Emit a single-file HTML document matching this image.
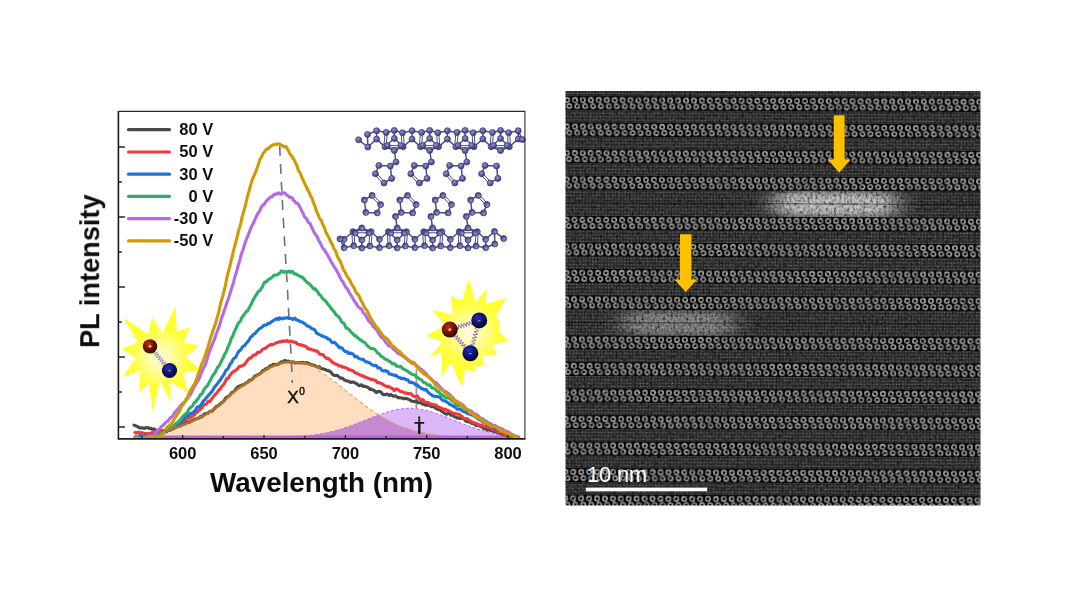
<!DOCTYPE html>
<html><head><meta charset="utf-8"><title>PL intensity vs wavelength</title>
<style>
html,body{margin:0;padding:0;background:#fff;}
body{width:1080px;height:608px;overflow:hidden;}
svg{display:block;font-family:"Liberation Sans",sans-serif;}
</style></head><body>
<svg width="1080" height="608" viewBox="0 0 1080 608">
<defs>
<radialGradient id="atomg" cx="0.4" cy="0.35" r="0.65"><stop offset="0" stop-color="#9090cc"/><stop offset="0.55" stop-color="#6464a6"/><stop offset="1" stop-color="#36366e"/></radialGradient>
<radialGradient id="redb" cx="0.4" cy="0.35" r="0.7"><stop offset="0" stop-color="#c02a1c"/><stop offset="0.5" stop-color="#78100c"/><stop offset="1" stop-color="#1c0303"/></radialGradient>
<radialGradient id="blueb" cx="0.4" cy="0.35" r="0.7"><stop offset="0" stop-color="#2630b8"/><stop offset="0.5" stop-color="#0c1378"/><stop offset="1" stop-color="#02031c"/></radialGradient>
<radialGradient id="sun1" gradientUnits="userSpaceOnUse" cx="160" cy="358" r="52"><stop offset="0" stop-color="#fffde0"/><stop offset="0.25" stop-color="#fffca0"/><stop offset="0.55" stop-color="#ffff3c"/><stop offset="1" stop-color="#ffff26"/></radialGradient>
<radialGradient id="sun2" gradientUnits="userSpaceOnUse" cx="469" cy="333" r="54"><stop offset="0" stop-color="#fffde8"/><stop offset="0.25" stop-color="#fffca0"/><stop offset="0.55" stop-color="#ffff3c"/><stop offset="1" stop-color="#ffff26"/></radialGradient>
<clipPath id="plotclip"><rect x="118.4" y="111.4" width="406.5" height="327.5"/></clipPath>
<filter id="soft2" x="0" y="0" width="100%" height="100%"><feGaussianBlur stdDeviation="0.35"/></filter>
<filter id="soft" x="-5%" y="-5%" width="110%" height="110%"><feGaussianBlur stdDeviation="0.45"/></filter>
<clipPath id="temclip"><rect x="565.5" y="91.0" width="415.0" height="414.4"/></clipPath>
<filter id="temblur" x="-2%" y="-2%" width="104%" height="104%"><feGaussianBlur stdDeviation="0.6"/></filter>
<filter id="blobblur" x="-20%" y="-50%" width="140%" height="200%"><feGaussianBlur stdDeviation="12 3.6"/></filter>
<filter id="grain" x="0" y="0" width="100%" height="100%"><feTurbulence type="fractalNoise" baseFrequency="0.38 0.34" numOctaves="2" seed="3" result="n"/><feColorMatrix type="matrix" values="1.9 0 0 0 -0.25  1.9 0 0 0 -0.25  1.9 0 0 0 -0.25  0 0 0 0 1"/></filter>
<pattern id="rings" patternUnits="userSpaceOnUse" x="570.13" y="0" width="7.93" height="14"><rect width="7.93" height="14" fill="#060606"/><circle cx="3.965" cy="3.9" r="2.15" fill="none" stroke="#a2a2a2" stroke-width="1.8"/><circle cx="6.233" cy="10.1" r="2.15" fill="none" stroke="#a2a2a2" stroke-width="1.8"/><circle cx="-1.697" cy="10.1" r="2.15" fill="none" stroke="#a2a2a2" stroke-width="1.8"/></pattern>
<g id="band"><rect x="560.5" y="0" width="425.0" height="14" fill="url(#rings)"/></g>
<pattern id="speck" patternUnits="userSpaceOnUse" x="566" y="0.3" width="3.2" height="3.29"><rect x="0.3" y="0.5" width="1.7" height="1.3" fill="#6e6e6e"/></pattern>
<radialGradient id="blob1" cx="0.5" cy="0.5" r="0.5" gradientTransform="translate(0.5 0.5) scale(1 1) translate(-0.5 -0.5)"><stop offset="0" stop-color="#f4f4f4" stop-opacity="0.74"/><stop offset="0.55" stop-color="#ececec" stop-opacity="0.58"/><stop offset="0.85" stop-color="#bbb" stop-opacity="0.18"/><stop offset="1" stop-color="#aaa" stop-opacity="0"/></radialGradient>
<radialGradient id="blob2" cx="0.5" cy="0.5" r="0.5"><stop offset="0" stop-color="#e8e8e8" stop-opacity="0.44"/><stop offset="0.55" stop-color="#e0e0e0" stop-opacity="0.33"/><stop offset="0.85" stop-color="#bbb" stop-opacity="0.10"/><stop offset="1" stop-color="#aaa" stop-opacity="0"/></radialGradient>
</defs>
<rect width="1080" height="608" fill="#fff"/>
<g id="chart" filter="url(#soft2)">
<g clip-path="url(#plotclip)">
<path d="M150.0,434.0 L152.0,433.7 L154.0,433.3 L156.0,432.9 L158.0,432.5 L160.0,432.1 L162.0,431.7 L164.0,431.2 L166.0,430.7 L168.0,430.1 L170.0,429.5 L172.0,428.9 L174.0,428.3 L176.0,427.6 L178.0,426.9 L180.0,426.1 L182.0,425.3 L184.0,424.5 L186.0,423.6 L188.0,422.7 L190.0,421.7 L192.0,420.7 L194.0,419.6 L196.0,418.5 L198.0,417.4 L200.0,416.2 L202.0,415.0 L204.0,413.8 L206.0,412.5 L208.0,411.2 L210.0,409.8 L212.0,408.4 L214.0,407.0 L216.0,405.5 L218.0,404.1 L220.0,402.6 L222.0,401.0 L224.0,399.5 L226.0,397.9 L228.0,396.3 L230.0,394.7 L232.0,393.1 L234.0,391.5 L236.0,389.9 L238.0,388.3 L240.0,386.7 L242.0,385.2 L244.0,383.6 L246.0,382.1 L248.0,380.6 L250.0,379.1 L252.0,377.7 L254.0,376.3 L256.0,374.9 L258.0,373.6 L260.0,372.3 L262.0,371.1 L264.0,370.0 L266.0,368.9 L268.0,367.9 L270.0,367.0 L272.0,366.2 L274.0,365.4 L276.0,364.7 L278.0,364.1 L280.0,363.6 L282.0,363.1 L284.0,362.8 L286.0,362.5 L288.0,362.4 L290.0,362.3 L292.0,362.3 L294.0,362.4 L296.0,362.6 L298.0,362.9 L300.0,363.3 L302.0,363.8 L304.0,364.4 L306.0,365.0 L308.0,365.8 L310.0,366.6 L312.0,367.5 L314.0,368.4 L316.0,369.5 L318.0,370.6 L320.0,371.7 L322.0,373.0 L324.0,374.2 L326.0,375.6 L328.0,377.0 L330.0,378.4 L332.0,379.8 L334.0,381.3 L336.0,382.8 L338.0,384.4 L340.0,386.0 L342.0,387.5 L344.0,389.1 L346.0,390.7 L348.0,392.3 L350.0,393.9 L352.0,395.5 L354.0,397.1 L356.0,398.7 L358.0,400.3 L360.0,401.8 L362.0,403.3 L364.0,404.8 L366.0,406.3 L368.0,407.7 L370.0,409.1 L372.0,410.5 L374.0,411.8 L376.0,413.2 L378.0,414.4 L380.0,415.7 L382.0,416.8 L384.0,418.0 L386.0,419.1 L388.0,420.2 L390.0,421.2 L392.0,422.2 L394.0,423.1 L396.0,424.0 L398.0,424.9 L400.0,425.7 L402.0,426.5 L404.0,427.2 L406.0,427.9 L408.0,428.6 L410.0,429.2 L412.0,429.8 L414.0,430.4 L416.0,430.9 L418.0,431.4 L420.0,431.9 L422.0,432.3 L424.0,432.8 L426.0,433.1 L428.0,433.5 L430.0,433.8 L432.0,434.1 L434.0,434.4 L436.0,434.7 L438.0,435.0 L440.0,435.2 L442.0,435.4 L444.0,435.6 L446.0,435.8 L448.0,435.9 L450.0,436.1 L452.0,436.2 L454.0,436.4 L456.0,436.5 L458.0,436.6 L460.0,436.7 L462.0,436.8 L464.0,436.9 L466.0,436.9 L468.0,437.0 L470.0,437.1 L472.0,437.1 L474.0,437.2 L476.0,437.2 L478.0,437.3 L480,437.6 L150,437.6Z" fill="#FFDDBE"/>
<path d="M150.0,437.6 L152.0,437.6 L154.0,437.6 L156.0,437.6 L158.0,437.6 L160.0,437.6 L162.0,437.6 L164.0,437.6 L166.0,437.6 L168.0,437.6 L170.0,437.6 L172.0,437.6 L174.0,437.6 L176.0,437.6 L178.0,437.6 L180.0,437.6 L182.0,437.6 L184.0,437.6 L186.0,437.6 L188.0,437.6 L190.0,437.6 L192.0,437.6 L194.0,437.6 L196.0,437.6 L198.0,437.6 L200.0,437.6 L202.0,437.6 L204.0,437.6 L206.0,437.6 L208.0,437.6 L210.0,437.6 L212.0,437.6 L214.0,437.6 L216.0,437.6 L218.0,437.6 L220.0,437.6 L222.0,437.6 L224.0,437.6 L226.0,437.6 L228.0,437.6 L230.0,437.6 L232.0,437.6 L234.0,437.6 L236.0,437.6 L238.0,437.6 L240.0,437.6 L242.0,437.6 L244.0,437.6 L246.0,437.6 L248.0,437.6 L250.0,437.6 L252.0,437.6 L254.0,437.6 L256.0,437.5 L258.0,437.5 L260.0,437.5 L262.0,437.5 L264.0,437.5 L266.0,437.5 L268.0,437.5 L270.0,437.4 L272.0,437.4 L274.0,437.4 L276.0,437.3 L278.0,437.3 L280.0,437.3 L282.0,437.2 L284.0,437.1 L286.0,437.1 L288.0,437.0 L290.0,436.9 L292.0,436.8 L294.0,436.7 L296.0,436.6 L298.0,436.5 L300.0,436.4 L302.0,436.2 L304.0,436.1 L306.0,435.9 L308.0,435.7 L310.0,435.5 L312.0,435.2 L314.0,435.0 L316.0,434.7 L318.0,434.4 L320.0,434.1 L322.0,433.7 L324.0,433.4 L326.0,433.0 L328.0,432.6 L330.0,432.1 L332.0,431.6 L334.0,431.1 L336.0,430.6 L338.0,430.0 L340.0,429.5 L342.0,428.8 L344.0,428.2 L346.0,427.5 L348.0,426.9 L350.0,426.1 L352.0,425.4 L354.0,424.7 L356.0,423.9 L358.0,423.1 L360.0,422.3 L362.0,421.5 L364.0,420.7 L366.0,419.9 L368.0,419.1 L370.0,418.3 L372.0,417.5 L374.0,416.7 L376.0,415.9 L378.0,415.1 L380.0,414.4 L382.0,413.7 L384.0,413.0 L386.0,412.4 L388.0,411.8 L390.0,411.2 L392.0,410.7 L394.0,410.2 L396.0,409.8 L398.0,409.4 L400.0,409.1 L402.0,408.8 L404.0,408.6 L406.0,408.5 L408.0,408.4 L410.0,408.4 L412.0,408.4 L414.0,408.6 L416.0,408.7 L418.0,409.0 L420.0,409.2 L422.0,409.6 L424.0,410.0 L426.0,410.4 L428.0,410.9 L430.0,411.5 L432.0,412.1 L434.0,412.7 L436.0,413.3 L438.0,414.0 L440.0,414.8 L442.0,415.5 L444.0,416.3 L446.0,417.1 L448.0,417.9 L450.0,418.7 L452.0,419.5 L454.0,420.3 L456.0,421.1 L458.0,421.9 L460.0,422.7 L462.0,423.5 L464.0,424.3 L466.0,425.0 L468.0,425.8 L470.0,426.5 L472.0,427.2 L474.0,427.9 L476.0,428.5 L478.0,429.1 L480.0,429.7 L482.0,430.3 L484.0,430.9 L486.0,431.4 L488.0,431.9 L490.0,432.3 L492.0,432.8 L494.0,433.2 L496.0,433.6 L498.0,433.9 L500.0,434.2 L502.0,434.6 L504.0,434.8 L506.0,435.1 L508.0,435.4 L510.0,435.6 L512.0,435.8 L514.0,436.0 L516.0,436.1 L518.0,436.3 L520.0,436.4 L522,437.6 L150,437.6Z" fill="#DDB8F8"/>
<path d="M150.0,437.6 L152.0,437.6 L154.0,437.6 L156.0,437.6 L158.0,437.6 L160.0,437.6 L162.0,437.6 L164.0,437.6 L166.0,437.6 L168.0,437.6 L170.0,437.6 L172.0,437.6 L174.0,437.6 L176.0,437.6 L178.0,437.6 L180.0,437.6 L182.0,437.6 L184.0,437.6 L186.0,437.6 L188.0,437.6 L190.0,437.6 L192.0,437.6 L194.0,437.6 L196.0,437.6 L198.0,437.6 L200.0,437.6 L202.0,437.6 L204.0,437.6 L206.0,437.6 L208.0,437.6 L210.0,437.6 L212.0,437.6 L214.0,437.6 L216.0,437.6 L218.0,437.6 L220.0,437.6 L222.0,437.6 L224.0,437.6 L226.0,437.6 L228.0,437.6 L230.0,437.6 L232.0,437.6 L234.0,437.6 L236.0,437.6 L238.0,437.6 L240.0,437.6 L242.0,437.6 L244.0,437.6 L246.0,437.6 L248.0,437.6 L250.0,437.6 L252.0,437.6 L254.0,437.6 L256.0,437.5 L258.0,437.5 L260.0,437.5 L262.0,437.5 L264.0,437.5 L266.0,437.5 L268.0,437.5 L270.0,437.4 L272.0,437.4 L274.0,437.4 L276.0,437.3 L278.0,437.3 L280.0,437.3 L282.0,437.2 L284.0,437.1 L286.0,437.1 L288.0,437.0 L290.0,436.9 L292.0,436.8 L294.0,436.7 L296.0,436.6 L298.0,436.5 L300.0,436.4 L302.0,436.2 L304.0,436.1 L306.0,435.9 L308.0,435.7 L310.0,435.5 L312.0,435.2 L314.0,435.0 L316.0,434.7 L318.0,434.4 L320.0,434.1 L322.0,433.7 L324.0,433.4 L326.0,433.0 L328.0,432.6 L330.0,432.1 L332.0,431.6 L334.0,431.1 L336.0,430.6 L338.0,430.0 L340.0,429.5 L342.0,428.8 L344.0,428.2 L346.0,427.5 L348.0,426.9 L350.0,426.1 L352.0,425.4 L354.0,424.7 L356.0,423.9 L358.0,423.1 L360.0,422.3 L362.0,421.5 L364.0,420.7 L366.0,419.9 L368.0,419.1 L370.0,418.3 L372.0,417.5 L374.0,416.7 L376.0,415.9 L378.0,415.1 L380.0,415.7 L382.0,416.8 L384.0,418.0 L386.0,419.1 L388.0,420.2 L390.0,421.2 L392.0,422.2 L394.0,423.1 L396.0,424.0 L398.0,424.9 L400.0,425.7 L402.0,426.5 L404.0,427.2 L406.0,427.9 L408.0,428.6 L410.0,429.2 L412.0,429.8 L414.0,430.4 L416.0,430.9 L418.0,431.4 L420.0,431.9 L422.0,432.3 L424.0,432.8 L426.0,433.1 L428.0,433.5 L430.0,433.8 L432.0,434.1 L434.0,434.4 L436.0,434.7 L438.0,435.0 L440.0,435.2 L442.0,435.4 L444.0,435.6 L446.0,435.8 L448.0,435.9 L450.0,436.1 L452.0,436.2 L454.0,436.4 L456.0,436.5 L458.0,436.6 L460.0,436.7 L462.0,436.8 L464.0,436.9 L466.0,436.9 L468.0,437.0 L470.0,437.1 L472.0,437.1 L474.0,437.2 L476.0,437.2 L478.0,437.3 L480.0,437.3 L482.0,437.3 L484.0,437.4 L486.0,437.4 L488.0,437.4 L490.0,437.4 L492.0,437.5 L494.0,437.5 L496.0,437.5 L498.0,437.5 L500.0,437.5 L502.0,437.5 L504.0,437.5 L506.0,437.5 L508.0,437.5 L510.0,437.6 L512.0,437.6 L514.0,437.6 L516.0,437.6 L518.0,437.6 L520.0,437.6 L522,437.6 L150,437.6Z" fill="#C688CE"/>
<path d="M150.0,437.6 L152.0,437.6 L154.0,437.6 L156.0,437.6 L158.0,437.6 L160.0,437.6 L162.0,437.6 L164.0,437.6 L166.0,437.6 L168.0,437.6 L170.0,437.6 L172.0,437.6 L174.0,437.6 L176.0,437.6 L178.0,437.6 L180.0,437.6 L182.0,437.6 L184.0,437.6 L186.0,437.6 L188.0,437.6 L190.0,437.6 L192.0,437.6 L194.0,437.6 L196.0,437.6 L198.0,437.6 L200.0,437.6 L202.0,437.6 L204.0,437.6 L206.0,437.6 L208.0,437.6 L210.0,437.6 L212.0,437.6 L214.0,437.6 L216.0,437.6 L218.0,437.6 L220.0,437.6 L222.0,437.6 L224.0,437.6 L226.0,437.6 L228.0,437.6 L230.0,437.6 L232.0,437.6 L234.0,437.6 L236.0,437.6 L238.0,437.6 L240.0,437.6 L242.0,437.6 L244.0,437.6 L246.0,437.6 L248.0,437.6 L250.0,437.6 L252.0,437.6 L254.0,437.6 L256.0,437.5 L258.0,437.5 L260.0,437.5 L262.0,437.5 L264.0,437.5 L266.0,437.5 L268.0,437.5 L270.0,437.4 L272.0,437.4 L274.0,437.4 L276.0,437.3 L278.0,437.3 L280.0,437.3 L282.0,437.2 L284.0,437.1 L286.0,437.1 L288.0,437.0 L290.0,436.9 L292.0,436.8 L294.0,436.7 L296.0,436.6 L298.0,436.5 L300.0,436.4 L302.0,436.2 L304.0,436.1 L306.0,435.9 L308.0,435.7 L310.0,435.5 L312.0,435.2 L314.0,435.0 L316.0,434.7 L318.0,434.4 L320.0,434.1 L322.0,433.7 L324.0,433.4 L326.0,433.0 L328.0,432.6 L330.0,432.1 L332.0,431.6 L334.0,431.1 L336.0,430.6 L338.0,430.0 L340.0,429.5 L342.0,428.8 L344.0,428.2 L346.0,427.5 L348.0,426.9 L350.0,426.1 L352.0,425.4 L354.0,424.7 L356.0,423.9 L358.0,423.1 L360.0,422.3 L362.0,421.5 L364.0,420.7 L366.0,419.9 L368.0,419.1 L370.0,418.3 L372.0,417.5 L374.0,416.7 L376.0,415.9 L378.0,415.1 L380.0,414.4 L382.0,413.7 L384.0,413.0 L386.0,412.4 L388.0,411.8 L390.0,411.2 L392.0,410.7 L394.0,410.2 L396.0,409.8 L398.0,409.4 L400.0,409.1 L402.0,408.8 L404.0,408.6 L406.0,408.5 L408.0,408.4 L410.0,408.4 L412.0,408.4 L414.0,408.6 L416.0,408.7 L418.0,409.0 L420.0,409.2 L422.0,409.6 L424.0,410.0 L426.0,410.4 L428.0,410.9 L430.0,411.5 L432.0,412.1 L434.0,412.7 L436.0,413.3 L438.0,414.0 L440.0,414.8 L442.0,415.5 L444.0,416.3 L446.0,417.1 L448.0,417.9 L450.0,418.7 L452.0,419.5 L454.0,420.3 L456.0,421.1 L458.0,421.9 L460.0,422.7 L462.0,423.5 L464.0,424.3 L466.0,425.0 L468.0,425.8 L470.0,426.5 L472.0,427.2 L474.0,427.9 L476.0,428.5 L478.0,429.1 L480.0,429.7 L482.0,430.3 L484.0,430.9 L486.0,431.4 L488.0,431.9 L490.0,432.3 L492.0,432.8 L494.0,433.2 L496.0,433.6 L498.0,433.9 L500.0,434.2 L502.0,434.6 L504.0,434.8 L506.0,435.1 L508.0,435.4 L510.0,435.6 L512.0,435.8 L514.0,436.0 L516.0,436.1 L518.0,436.3 L520.0,436.4" fill="none" stroke="#B468E0" stroke-width="1.2" stroke-dasharray="3 2" opacity="0.8"/>
<path d="M150,436.70000000000005H520" stroke="#B060D8" stroke-width="2.4" opacity="0.9"/>
</g>
<g filter="url(#soft)">
<path d="M175.6,306.3 L176.7,331.6 L189.4,327.5 L183.9,342.7 L199.3,345.4 L185.9,356.7 L200.3,370.0 L182.8,373.1 L188.0,392.7 L170.5,382.4 L170.5,401.9 L160.2,381.3 L152.6,411.2 L148.9,383.4 L139.3,392.7 L139.7,371.1 L122.2,377.2 L135.6,357.7 L121.2,348.9 L137.6,342.3 L123.2,317.6 L147.9,334.1 L152.0,317.2 L162.3,333.0Z" fill="url(#sun1)"/>
<path d="M468.7,279.3 L475.5,301.9 L486.8,289.5 L485.8,303.9 L506.3,297.8 L496.1,316.3 L500.2,323.5 L499.2,331.7 L508.8,340.9 L492.0,345.0 L497.1,354.3 L481.7,356.3 L484.8,365.6 L474.5,366.6 L475.5,372.8 L465.2,368.7 L462.1,387.2 L450.8,362.5 L441.6,376.9 L441.6,352.2 L429.3,357.4 L442.6,342.0 L426.2,335.8 L444.7,325.5 L432.3,310.1 L452.9,314.2 L450.8,295.7 L462.1,300.8Z" fill="url(#sun2)"/>
<path d="M154.0,351.4 L153.1,353.8 L157.3,352.0 L154.8,355.8 L159.0,354.0 L156.4,357.8 L160.6,356.1 L158.0,359.8 L162.3,358.1 L159.7,361.9 L163.9,360.1 L161.3,363.9 L165.6,362.1 L163.0,365.9 L165.5,365.5" stroke="#a08cba" stroke-width="1.0" fill="none"/>
<circle cx="150.0" cy="346.4" r="7.2" fill="url(#redb)"/><path d="M148.4,346.4h3.2M150.0,344.8v3.2" stroke="#FFD23A" stroke-width="1.1"/>
<circle cx="169.5" cy="370.5" r="7.6" fill="url(#blueb)"/><path d="M168.2,370.8h2.6" stroke="#C9B23A" stroke-width="0.9"/>
<path d="M456.5,327.5 L458.4,329.1 L458.5,324.7 L461.1,328.3 L461.2,323.8 L463.8,327.4 L463.9,323.0 L466.5,326.6 L466.5,322.2 L469.1,325.7 L469.2,321.3 L471.8,324.9 L472.5,322.5" stroke="#a070b8" stroke-width="1.0" fill="none"/>
<path d="M454.4,334.9 L453.8,337.4 L457.9,335.7 L455.7,339.5 L459.8,337.9 L457.6,341.7 L461.7,340.1 L459.5,343.9 L463.6,342.3 L461.4,346.1 L465.5,344.5 L463.3,348.3 L465.8,348.0" stroke="#a070b8" stroke-width="1.0" fill="none"/>
<path d="M477.4,327.2 L474.9,328.2 L478.6,330.9 L474.1,331.5 L477.7,334.2 L473.2,334.7 L476.8,337.4 L472.3,337.9 L476.0,340.6 L471.5,341.2 L475.1,343.9 L470.6,344.4 L472.2,346.5" stroke="#a070b8" stroke-width="1.0" fill="none"/>
<circle cx="449.8" cy="329.6" r="8" fill="url(#redb)"/><path d="M448.2,329.6h3.2M449.8,328.0v3.2" stroke="#FFD23A" stroke-width="1.1"/>
<circle cx="479.2" cy="320.4" r="8" fill="url(#blueb)"/><path d="M477.9,320.7h2.6" stroke="#C9B23A" stroke-width="0.9"/>
<circle cx="470.4" cy="353.3" r="8" fill="url(#blueb)"/><path d="M469.1,353.6h2.6" stroke="#C9B23A" stroke-width="0.9"/>
</g>
<path d="M279.7,146 C281.5,190 285,250 287.5,290 C289.5,330 291.5,360 292.3,383" fill="none" stroke="#707070" stroke-width="1.6" stroke-dasharray="10 8"/>
<path d="M416.4,369.2V408.3" stroke="#999" stroke-width="1.8"/>
<g clip-path="url(#plotclip)">
<path d="M134.0,425.2 L134.8,425.4 L135.6,425.7 L136.4,426.2 L137.2,426.3 L138.0,426.7 L138.8,427.5 L139.6,428.0 L140.4,427.9 L141.2,427.9 L142.0,427.7 L142.8,427.9 L143.6,428.2 L144.4,428.4 L145.2,427.8 L146.0,427.7 L146.8,427.8 L147.6,427.6 L148.4,428.0 L149.2,428.7 L150.0,428.1 L150.8,428.2 L151.6,428.9 L152.4,429.3 L153.2,429.1 L154.0,428.9 L154.8,429.5 L155.6,430.4 L156.4,430.8 L157.2,430.5 L158.0,429.9 L158.8,429.7 L159.6,430.0 L160.4,430.2 L161.2,431.0 L162.0,431.3 L162.8,431.0 L163.6,430.6 L164.4,430.5 L165.2,430.2 L166.0,430.1 L166.8,429.8 L167.6,430.0 L168.4,430.0 L169.2,430.2 L170.0,430.4 L170.8,429.7 L171.6,428.7 L172.4,428.9 L173.2,428.7 L174.0,428.1 L174.8,427.9 L175.6,427.4 L176.4,427.1 L177.2,426.7 L178.0,426.0 L178.8,425.6 L179.6,425.9 L180.4,425.9 L181.2,425.2 L182.0,424.6 L182.8,424.5 L183.6,424.4 L184.4,424.0 L185.2,422.8 L186.0,422.1 L186.8,422.5 L187.6,422.2 L188.4,421.9 L189.2,422.3 L190.0,422.0 L190.8,421.1 L191.6,420.8 L192.4,420.6 L193.2,420.0 L194.0,419.3 L194.8,419.1 L195.6,419.0 L196.4,418.8 L197.2,418.5 L198.0,418.1 L198.8,418.1 L199.6,417.6 L200.4,416.5 L201.2,416.2 L202.0,416.8 L202.8,416.0 L203.6,414.6 L204.4,413.9 L205.2,413.9 L206.0,413.5 L206.8,413.6 L207.6,413.4 L208.4,412.8 L209.2,411.9 L210.0,411.3 L210.8,411.2 L211.6,411.0 L212.4,411.0 L213.2,409.9 L214.0,408.8 L214.8,408.5 L215.6,407.5 L216.4,406.2 L217.2,406.1 L218.0,405.9 L218.8,405.2 L219.6,404.6 L220.4,403.8 L221.2,403.0 L222.0,402.2 L222.8,402.2 L223.6,401.1 L224.4,400.2 L225.2,398.7 L226.0,397.5 L226.8,397.3 L227.6,396.8 L228.4,396.2 L229.2,395.8 L230.0,395.0 L230.8,393.8 L231.6,392.7 L232.4,392.2 L233.2,391.8 L234.0,391.3 L234.8,390.6 L235.6,389.5 L236.4,388.2 L237.2,387.6 L238.0,386.9 L238.8,386.2 L239.6,386.0 L240.4,386.1 L241.2,385.3 L242.0,384.9 L242.8,384.9 L243.6,384.8 L244.4,384.4 L245.2,383.4 L246.0,382.8 L246.8,382.7 L247.6,382.2 L248.4,381.2 L249.2,380.4 L250.0,380.0 L250.8,380.2 L251.6,379.7 L252.4,379.1 L253.2,378.3 L254.0,376.9 L254.8,376.1 L255.6,375.9 L256.4,375.3 L257.2,375.0 L258.0,374.7 L258.8,374.5 L259.6,373.7 L260.4,373.4 L261.2,372.8 L262.0,371.5 L262.8,370.4 L263.6,370.4 L264.4,370.3 L265.2,369.4 L266.0,368.4 L266.8,368.6 L267.6,368.7 L268.4,367.8 L269.2,366.8 L270.0,365.7 L270.8,365.8 L271.6,366.1 L272.4,365.0 L273.2,364.2 L274.0,364.5 L274.8,364.9 L275.6,364.8 L276.4,364.2 L277.2,364.3 L278.0,364.6 L278.8,363.9 L279.6,363.2 L280.4,362.4 L281.2,361.9 L282.0,362.0 L282.8,361.9 L283.6,361.5 L284.4,360.6 L285.2,360.5 L286.0,361.1 L286.8,361.7 L287.6,361.3 L288.4,361.1 L289.2,361.5 L290.0,361.8 L290.8,362.0 L291.6,362.1 L292.4,361.9 L293.2,361.8 L294.0,362.2 L294.8,362.9 L295.6,362.9 L296.4,362.6 L297.2,362.9 L298.0,362.6 L298.8,362.5 L299.6,362.9 L300.4,362.7 L301.2,362.6 L302.0,362.5 L302.8,362.4 L303.6,362.5 L304.4,362.7 L305.2,363.0 L306.0,363.0 L306.8,362.6 L307.6,362.7 L308.4,363.2 L309.2,363.7 L310.0,364.4 L310.8,364.4 L311.6,364.9 L312.4,364.9 L313.2,365.0 L314.0,365.2 L314.8,365.4 L315.6,366.3 L316.4,366.8 L317.2,366.7 L318.0,367.2 L318.8,366.7 L319.6,366.8 L320.4,368.0 L321.2,368.8 L322.0,368.8 L322.8,368.7 L323.6,369.0 L324.4,369.5 L325.2,369.4 L326.0,370.0 L326.8,370.4 L327.6,370.6 L328.4,370.4 L329.2,371.2 L330.0,371.6 L330.8,371.9 L331.6,373.2 L332.4,374.3 L333.2,374.6 L334.0,375.3 L334.8,375.5 L335.6,375.6 L336.4,375.3 L337.2,375.4 L338.0,376.4 L338.8,376.7 L339.6,377.2 L340.4,378.2 L341.2,378.2 L342.0,378.1 L342.8,378.5 L343.6,379.2 L344.4,380.1 L345.2,380.4 L346.0,380.7 L346.8,380.8 L347.6,381.0 L348.4,381.3 L349.2,381.7 L350.0,382.0 L350.8,382.5 L351.6,382.1 L352.4,382.3 L353.2,382.1 L354.0,382.3 L354.8,382.7 L355.6,383.2 L356.4,383.6 L357.2,384.2 L358.0,384.5 L358.8,385.5 L359.6,385.7 L360.4,385.2 L361.2,384.7 L362.0,385.4 L362.8,386.2 L363.6,386.5 L364.4,386.1 L365.2,386.2 L366.0,386.7 L366.8,387.1 L367.6,387.3 L368.4,387.6 L369.2,388.5 L370.0,389.4 L370.8,389.0 L371.6,389.1 L372.4,389.9 L373.2,390.0 L374.0,390.4 L374.8,391.0 L375.6,392.0 L376.4,392.6 L377.2,391.9 L378.0,391.5 L378.8,391.6 L379.6,391.4 L380.4,391.9 L381.2,392.4 L382.0,393.3 L382.8,394.5 L383.6,394.8 L384.4,394.6 L385.2,394.8 L386.0,394.2 L386.8,394.1 L387.6,394.3 L388.4,395.0 L389.2,395.4 L390.0,395.3 L390.8,394.5 L391.6,395.2 L392.4,395.6 L393.2,396.1 L394.0,396.2 L394.8,395.9 L395.6,395.9 L396.4,396.7 L397.2,397.2 L398.0,397.7 L398.8,397.4 L399.6,397.6 L400.4,398.0 L401.2,398.0 L402.0,398.0 L402.8,398.1 L403.6,398.8 L404.4,398.7 L405.2,398.2 L406.0,398.4 L406.8,398.7 L407.6,398.9 L408.4,399.3 L409.2,399.5 L410.0,400.2 L410.8,400.6 L411.6,401.2 L412.4,401.2 L413.2,401.3 L414.0,401.6 L414.8,401.7 L415.6,401.1 L416.4,400.8 L417.2,401.8 L418.0,402.7 L418.8,402.7 L419.6,402.8 L420.4,402.8 L421.2,403.0 L422.0,403.8 L422.8,404.1 L423.6,404.1 L424.4,404.6 L425.2,405.0 L426.0,405.0 L426.8,405.2 L427.6,405.2 L428.4,405.2 L429.2,405.3 L430.0,405.8 L430.8,406.2 L431.6,406.7 L432.4,406.8 L433.2,406.5 L434.0,406.2 L434.8,407.3 L435.6,408.5 L436.4,408.4 L437.2,408.5 L438.0,409.6 L438.8,409.7 L439.6,409.3 L440.4,410.1 L441.2,410.9 L442.0,411.5 L442.8,411.8 L443.6,412.7 L444.4,413.1 L445.2,413.7 L446.0,413.9 L446.8,414.2 L447.6,413.7 L448.4,413.2 L449.2,413.2 L450.0,414.2 L450.8,415.3 L451.6,415.3 L452.4,414.8 L453.2,415.5 L454.0,416.5 L454.8,417.0 L455.6,417.0 L456.4,417.5 L457.2,418.1 L458.0,417.9 L458.8,417.8 L459.6,418.4 L460.4,418.4 L461.2,418.4 L462.0,418.1 L462.8,418.1 L463.6,418.6 L464.4,419.7 L465.2,420.5 L466.0,421.2 L466.8,421.4 L467.6,421.3 L468.4,421.9 L469.2,421.8 L470.0,421.9 L470.8,422.7 L471.6,423.3 L472.4,423.7 L473.2,423.7 L474.0,423.7 L474.8,424.3 L475.6,425.1 L476.4,425.5 L477.2,425.4 L478.0,425.1 L478.8,425.5 L479.6,426.0 L480.4,426.4 L481.2,426.5 L482.0,426.9 L482.8,427.8 L483.6,428.4 L484.4,428.3 L485.2,428.5 L486.0,429.1 L486.8,430.1 L487.6,430.0 L488.4,429.6 L489.2,429.6 L490.0,430.0 L490.8,430.6 L491.6,430.8 L492.4,430.9 L493.2,431.1 L494.0,431.2 L494.8,431.9 L495.6,431.6 L496.4,431.5 L497.2,432.4 L498.0,433.0 L498.8,432.9 L499.6,433.1 L500.4,433.0 L501.2,433.7 L502.0,434.3 L502.8,434.7 L503.6,434.5 L504.4,434.4 L505.2,434.7 L506.0,435.2 L506.8,435.6 L507.6,435.6 L508.4,435.5 L509.2,435.9 L510.0,436.6 L510.8,436.8 L511.6,436.5 L512.4,436.5 L513.2,437.0 L514.0,436.5 L514.8,436.0 L515.6,436.7" fill="none" stroke="#4A4A4A" stroke-width="3.1" stroke-linejoin="round" stroke-linecap="round"/>
<path d="M135.0,432.4 L135.8,433.1 L136.6,433.1 L137.4,432.3 L138.2,432.3 L139.0,432.5 L139.8,432.7 L140.6,432.9 L141.4,432.7 L142.2,432.5 L143.0,433.4 L143.8,433.6 L144.6,433.5 L145.4,433.4 L146.2,433.5 L147.0,433.7 L147.8,433.8 L148.6,433.5 L149.4,433.7 L150.2,433.7 L151.0,433.0 L151.8,432.7 L152.6,432.9 L153.4,432.6 L154.2,431.9 L155.0,432.0 L155.8,432.0 L156.6,431.7 L157.4,431.8 L158.2,432.4 L159.0,432.9 L159.8,432.3 L160.6,431.8 L161.4,432.2 L162.2,432.0 L163.0,431.6 L163.8,431.5 L164.6,431.4 L165.4,430.6 L166.2,430.1 L167.0,429.9 L167.8,430.0 L168.6,429.5 L169.4,428.8 L170.2,428.1 L171.0,427.5 L171.8,426.9 L172.6,427.3 L173.4,426.9 L174.2,426.5 L175.0,426.4 L175.8,426.0 L176.6,425.6 L177.4,425.1 L178.2,424.4 L179.0,423.5 L179.8,423.3 L180.6,422.8 L181.4,421.9 L182.2,421.7 L183.0,421.6 L183.8,421.1 L184.6,420.6 L185.4,419.8 L186.2,419.2 L187.0,418.6 L187.8,418.3 L188.6,418.2 L189.4,417.6 L190.2,417.1 L191.0,417.1 L191.8,416.6 L192.6,415.7 L193.4,415.4 L194.2,415.1 L195.0,414.1 L195.8,412.8 L196.6,412.4 L197.4,412.1 L198.2,411.0 L199.0,410.2 L199.8,409.6 L200.6,408.8 L201.4,408.5 L202.2,407.7 L203.0,406.0 L203.8,404.9 L204.6,404.2 L205.4,404.3 L206.2,404.4 L207.0,403.4 L207.8,401.8 L208.6,401.1 L209.4,401.6 L210.2,401.3 L211.0,399.8 L211.8,398.6 L212.6,397.7 L213.4,396.8 L214.2,395.5 L215.0,394.6 L215.8,394.1 L216.6,393.1 L217.4,392.1 L218.2,391.1 L219.0,389.7 L219.8,389.4 L220.6,388.5 L221.4,387.0 L222.2,385.8 L223.0,385.4 L223.8,384.4 L224.6,383.0 L225.4,381.1 L226.2,379.7 L227.0,378.4 L227.8,378.6 L228.6,377.8 L229.4,375.8 L230.2,374.9 L231.0,374.3 L231.8,372.9 L232.6,372.2 L233.4,371.6 L234.2,371.1 L235.0,371.0 L235.8,370.4 L236.6,369.4 L237.4,369.0 L238.2,367.9 L239.0,366.6 L239.8,366.6 L240.6,366.5 L241.4,365.8 L242.2,365.7 L243.0,365.4 L243.8,365.1 L244.6,364.3 L245.4,363.1 L246.2,362.1 L247.0,360.9 L247.8,360.0 L248.6,359.1 L249.4,358.2 L250.2,357.8 L251.0,358.0 L251.8,357.1 L252.6,356.1 L253.4,355.0 L254.2,355.1 L255.0,354.9 L255.8,354.7 L256.6,353.5 L257.4,352.5 L258.2,352.2 L259.0,352.4 L259.8,351.9 L260.6,351.7 L261.4,351.0 L262.2,349.7 L263.0,349.0 L263.8,348.8 L264.6,348.5 L265.4,348.2 L266.2,347.7 L267.0,346.8 L267.8,346.2 L268.6,345.7 L269.4,345.3 L270.2,344.9 L271.0,344.4 L271.8,344.8 L272.6,344.7 L273.4,344.2 L274.2,344.0 L275.0,343.5 L275.8,343.0 L276.6,342.8 L277.4,342.4 L278.2,342.2 L279.0,342.1 L279.8,341.5 L280.6,341.6 L281.4,342.0 L282.2,341.4 L283.0,340.9 L283.8,341.2 L284.6,341.0 L285.4,341.4 L286.2,340.8 L287.0,340.4 L287.8,341.0 L288.6,341.8 L289.4,341.4 L290.2,341.2 L291.0,340.9 L291.8,341.5 L292.6,341.8 L293.4,341.9 L294.2,342.1 L295.0,342.6 L295.8,342.3 L296.6,343.1 L297.4,344.0 L298.2,344.4 L299.0,344.5 L299.8,344.9 L300.6,344.8 L301.4,344.9 L302.2,345.3 L303.0,345.6 L303.8,345.6 L304.6,346.1 L305.4,346.4 L306.2,346.5 L307.0,347.7 L307.8,348.9 L308.6,348.7 L309.4,348.6 L310.2,349.2 L311.0,349.5 L311.8,349.8 L312.6,350.0 L313.4,349.9 L314.2,350.5 L315.0,351.1 L315.8,350.9 L316.6,350.9 L317.4,351.4 L318.2,352.1 L319.0,353.4 L319.8,354.3 L320.6,354.3 L321.4,354.8 L322.2,354.6 L323.0,354.5 L323.8,355.8 L324.6,356.7 L325.4,357.3 L326.2,358.2 L327.0,358.5 L327.8,358.3 L328.6,358.6 L329.4,359.3 L330.2,360.2 L331.0,360.7 L331.8,361.8 L332.6,362.6 L333.4,362.6 L334.2,363.3 L335.0,363.9 L335.8,364.2 L336.6,364.3 L337.4,364.6 L338.2,365.3 L339.0,366.1 L339.8,365.9 L340.6,365.7 L341.4,366.5 L342.2,367.2 L343.0,366.7 L343.8,367.0 L344.6,367.6 L345.4,367.6 L346.2,367.9 L347.0,368.2 L347.8,368.6 L348.6,369.8 L349.4,369.8 L350.2,369.7 L351.0,370.3 L351.8,370.5 L352.6,370.5 L353.4,371.1 L354.2,372.1 L355.0,372.7 L355.8,373.1 L356.6,373.2 L357.4,373.7 L358.2,374.0 L359.0,374.5 L359.8,375.0 L360.6,375.3 L361.4,375.4 L362.2,375.5 L363.0,375.7 L363.8,376.9 L364.6,377.3 L365.4,377.0 L366.2,377.5 L367.0,377.7 L367.8,377.9 L368.6,378.5 L369.4,378.7 L370.2,379.0 L371.0,379.8 L371.8,379.5 L372.6,379.2 L373.4,379.8 L374.2,380.3 L375.0,380.3 L375.8,380.5 L376.6,381.8 L377.4,382.7 L378.2,382.6 L379.0,382.5 L379.8,383.0 L380.6,383.3 L381.4,383.2 L382.2,383.7 L383.0,384.7 L383.8,385.0 L384.6,385.7 L385.4,385.7 L386.2,386.2 L387.0,386.9 L387.8,386.5 L388.6,386.3 L389.4,386.9 L390.2,387.3 L391.0,388.1 L391.8,388.4 L392.6,388.5 L393.4,389.3 L394.2,390.7 L395.0,389.9 L395.8,389.0 L396.6,389.0 L397.4,389.3 L398.2,389.7 L399.0,390.3 L399.8,391.0 L400.6,391.6 L401.4,391.6 L402.2,391.6 L403.0,391.9 L403.8,392.6 L404.6,393.3 L405.4,393.1 L406.2,392.8 L407.0,393.2 L407.8,393.8 L408.6,393.6 L409.4,393.5 L410.2,393.7 L411.0,393.8 L411.8,394.4 L412.6,395.6 L413.4,396.1 L414.2,396.2 L415.0,396.6 L415.8,396.7 L416.6,396.3 L417.4,396.0 L418.2,396.9 L419.0,398.3 L419.8,399.3 L420.6,400.3 L421.4,400.3 L422.2,399.5 L423.0,399.7 L423.8,400.8 L424.6,401.7 L425.4,402.2 L426.2,402.4 L427.0,402.4 L427.8,402.5 L428.6,402.9 L429.4,403.4 L430.2,404.0 L431.0,404.3 L431.8,404.1 L432.6,404.4 L433.4,404.6 L434.2,405.0 L435.0,405.3 L435.8,404.9 L436.6,405.6 L437.4,406.5 L438.2,406.8 L439.0,407.4 L439.8,407.8 L440.6,407.7 L441.4,408.0 L442.2,408.5 L443.0,409.3 L443.8,409.5 L444.6,409.1 L445.4,409.3 L446.2,410.2 L447.0,410.5 L447.8,410.1 L448.6,410.8 L449.4,411.2 L450.2,411.7 L451.0,411.9 L451.8,412.7 L452.6,413.5 L453.4,413.6 L454.2,413.6 L455.0,413.6 L455.8,413.7 L456.6,414.0 L457.4,414.1 L458.2,414.0 L459.0,414.3 L459.8,414.8 L460.6,415.7 L461.4,416.0 L462.2,416.6 L463.0,417.7 L463.8,418.4 L464.6,418.6 L465.4,418.6 L466.2,418.4 L467.0,418.6 L467.8,419.5 L468.6,419.9 L469.4,420.4 L470.2,420.8 L471.0,421.3 L471.8,421.8 L472.6,422.4 L473.4,422.3 L474.2,422.8 L475.0,423.3 L475.8,423.2 L476.6,423.3 L477.4,424.4 L478.2,424.8 L479.0,424.7 L479.8,425.0 L480.6,425.2 L481.4,425.2 L482.2,425.5 L483.0,425.7 L483.8,426.7 L484.6,426.8 L485.4,426.7 L486.2,426.5 L487.0,426.5 L487.8,427.0 L488.6,427.7 L489.4,427.4 L490.2,427.7 L491.0,428.4 L491.8,429.1 L492.6,429.6 L493.4,429.2 L494.2,429.1 L495.0,429.7 L495.8,430.2 L496.6,430.9 L497.4,431.8 L498.2,432.4 L499.0,432.2 L499.8,432.0 L500.6,432.0 L501.4,431.8 L502.2,431.9 L503.0,433.1 L503.8,434.3 L504.6,434.6 L505.4,434.6 L506.2,434.2 L507.0,433.9 L507.8,435.2 L508.6,435.9 L509.4,435.6 L510.2,435.8 L511.0,435.9 L511.8,435.8 L512.6,437.0 L513.4,437.9 L514.2,437.6 L515.0,437.8 L515.8,438.2" fill="none" stroke="#F0383C" stroke-width="3.1" stroke-linejoin="round" stroke-linecap="round"/>
<path d="M135.0,436.8 L135.8,437.1 L136.6,437.1 L137.4,437.5 L138.2,437.1 L139.0,436.2 L139.8,435.6 L140.6,435.6 L141.4,436.1 L142.2,436.8 L143.0,436.6 L143.8,436.1 L144.6,435.7 L145.4,435.6 L146.2,436.3 L147.0,436.9 L147.8,437.1 L148.6,436.6 L149.4,436.3 L150.2,436.3 L151.0,436.4 L151.8,436.0 L152.6,435.7 L153.4,435.5 L154.2,435.3 L155.0,435.1 L155.8,435.0 L156.6,435.0 L157.4,434.9 L158.2,434.5 L159.0,434.4 L159.8,434.0 L160.6,433.3 L161.4,432.8 L162.2,432.9 L163.0,432.7 L163.8,432.5 L164.6,432.0 L165.4,432.1 L166.2,432.0 L167.0,431.4 L167.8,430.8 L168.6,430.6 L169.4,430.2 L170.2,430.0 L171.0,429.4 L171.8,428.4 L172.6,427.1 L173.4,426.7 L174.2,426.7 L175.0,425.9 L175.8,425.3 L176.6,425.0 L177.4,424.0 L178.2,423.9 L179.0,423.7 L179.8,422.8 L180.6,421.9 L181.4,421.5 L182.2,420.9 L183.0,419.7 L183.8,418.6 L184.6,417.6 L185.4,416.4 L186.2,415.6 L187.0,415.7 L187.8,415.9 L188.6,415.4 L189.4,414.2 L190.2,413.6 L191.0,413.8 L191.8,413.3 L192.6,412.8 L193.4,412.0 L194.2,411.4 L195.0,410.7 L195.8,409.6 L196.6,408.1 L197.4,406.9 L198.2,406.9 L199.0,406.7 L199.8,406.2 L200.6,405.1 L201.4,404.2 L202.2,402.7 L203.0,401.4 L203.8,400.5 L204.6,400.2 L205.4,399.0 L206.2,397.7 L207.0,397.3 L207.8,396.4 L208.6,395.1 L209.4,394.5 L210.2,393.4 L211.0,392.3 L211.8,391.7 L212.6,390.4 L213.4,389.0 L214.2,387.7 L215.0,386.3 L215.8,385.7 L216.6,384.7 L217.4,383.6 L218.2,382.6 L219.0,381.5 L219.8,380.6 L220.6,379.6 L221.4,377.9 L222.2,376.6 L223.0,375.9 L223.8,374.9 L224.6,373.3 L225.4,371.4 L226.2,370.0 L227.0,369.6 L227.8,369.0 L228.6,367.6 L229.4,365.6 L230.2,363.8 L231.0,363.3 L231.8,362.3 L232.6,360.2 L233.4,358.7 L234.2,358.2 L235.0,357.9 L235.8,357.2 L236.6,355.4 L237.4,353.7 L238.2,352.4 L239.0,351.0 L239.8,350.4 L240.6,349.9 L241.4,348.8 L242.2,347.3 L243.0,346.2 L243.8,346.1 L244.6,345.6 L245.4,344.4 L246.2,343.4 L247.0,342.6 L247.8,341.6 L248.6,340.7 L249.4,339.5 L250.2,337.7 L251.0,336.8 L251.8,336.5 L252.6,335.5 L253.4,334.3 L254.2,334.1 L255.0,333.7 L255.8,332.8 L256.6,331.5 L257.4,330.8 L258.2,330.1 L259.0,328.9 L259.8,328.6 L260.6,328.3 L261.4,327.4 L262.2,327.0 L263.0,326.4 L263.8,325.2 L264.6,325.1 L265.4,325.3 L266.2,325.0 L267.0,324.5 L267.8,323.4 L268.6,323.1 L269.4,323.5 L270.2,322.9 L271.0,322.0 L271.8,321.7 L272.6,321.0 L273.4,320.7 L274.2,320.0 L275.0,319.5 L275.8,319.1 L276.6,318.3 L277.4,318.6 L278.2,319.7 L279.0,318.7 L279.8,317.7 L280.6,318.3 L281.4,318.8 L282.2,318.9 L283.0,318.4 L283.8,318.0 L284.6,318.0 L285.4,318.2 L286.2,317.9 L287.0,317.6 L287.8,317.9 L288.6,318.4 L289.4,318.3 L290.2,318.3 L291.0,318.5 L291.8,318.8 L292.6,319.4 L293.4,319.2 L294.2,318.6 L295.0,318.2 L295.8,319.0 L296.6,320.0 L297.4,320.1 L298.2,320.4 L299.0,320.9 L299.8,321.4 L300.6,321.8 L301.4,321.8 L302.2,322.1 L303.0,322.6 L303.8,323.1 L304.6,323.6 L305.4,324.0 L306.2,325.0 L307.0,325.9 L307.8,326.0 L308.6,326.2 L309.4,326.8 L310.2,327.2 L311.0,328.0 L311.8,328.8 L312.6,328.8 L313.4,329.1 L314.2,329.5 L315.0,330.2 L315.8,331.6 L316.6,333.2 L317.4,333.4 L318.2,333.8 L319.0,334.4 L319.8,334.7 L320.6,335.2 L321.4,335.9 L322.2,335.7 L323.0,336.2 L323.8,336.5 L324.6,337.1 L325.4,337.3 L326.2,337.2 L327.0,338.1 L327.8,339.1 L328.6,338.9 L329.4,339.3 L330.2,340.2 L331.0,341.2 L331.8,342.2 L332.6,342.9 L333.4,342.6 L334.2,342.4 L335.0,342.7 L335.8,343.4 L336.6,344.6 L337.4,345.5 L338.2,346.1 L339.0,347.4 L339.8,347.8 L340.6,347.6 L341.4,347.8 L342.2,348.3 L343.0,349.3 L343.8,350.4 L344.6,351.1 L345.4,351.8 L346.2,351.7 L347.0,351.5 L347.8,352.7 L348.6,353.5 L349.4,353.6 L350.2,352.9 L351.0,353.1 L351.8,353.8 L352.6,353.9 L353.4,354.3 L354.2,355.5 L355.0,356.9 L355.8,356.6 L356.6,356.5 L357.4,356.9 L358.2,358.0 L359.0,358.6 L359.8,358.9 L360.6,359.1 L361.4,359.3 L362.2,359.5 L363.0,359.4 L363.8,359.9 L364.6,361.0 L365.4,361.7 L366.2,361.8 L367.0,361.9 L367.8,362.2 L368.6,362.6 L369.4,362.6 L370.2,363.4 L371.0,364.1 L371.8,364.7 L372.6,365.1 L373.4,365.4 L374.2,365.4 L375.0,365.4 L375.8,365.2 L376.6,366.1 L377.4,367.3 L378.2,368.0 L379.0,367.8 L379.8,368.0 L380.6,368.5 L381.4,369.7 L382.2,370.4 L383.0,371.0 L383.8,371.0 L384.6,370.7 L385.4,370.6 L386.2,371.1 L387.0,371.2 L387.8,371.5 L388.6,373.0 L389.4,374.0 L390.2,374.0 L391.0,374.2 L391.8,374.5 L392.6,374.8 L393.4,375.1 L394.2,375.4 L395.0,375.2 L395.8,375.0 L396.6,375.9 L397.4,376.8 L398.2,377.2 L399.0,377.6 L399.8,377.5 L400.6,378.2 L401.4,378.7 L402.2,378.3 L403.0,378.4 L403.8,378.8 L404.6,378.6 L405.4,379.3 L406.2,379.8 L407.0,379.8 L407.8,379.9 L408.6,380.9 L409.4,382.1 L410.2,382.5 L411.0,382.2 L411.8,382.3 L412.6,382.7 L413.4,383.0 L414.2,383.4 L415.0,384.0 L415.8,384.9 L416.6,385.1 L417.4,384.8 L418.2,385.9 L419.0,387.0 L419.8,387.2 L420.6,387.8 L421.4,388.7 L422.2,388.8 L423.0,388.7 L423.8,389.8 L424.6,389.9 L425.4,389.3 L426.2,389.5 L427.0,390.8 L427.8,391.7 L428.6,392.7 L429.4,393.3 L430.2,394.0 L431.0,394.6 L431.8,395.1 L432.6,395.6 L433.4,396.1 L434.2,396.3 L435.0,396.8 L435.8,396.6 L436.6,396.4 L437.4,396.7 L438.2,396.9 L439.0,396.9 L439.8,397.1 L440.6,397.9 L441.4,399.1 L442.2,399.8 L443.0,400.5 L443.8,400.7 L444.6,400.9 L445.4,401.1 L446.2,401.8 L447.0,402.0 L447.8,402.5 L448.6,403.4 L449.4,404.4 L450.2,404.7 L451.0,404.6 L451.8,405.2 L452.6,406.0 L453.4,406.2 L454.2,406.5 L455.0,407.2 L455.8,407.7 L456.6,408.5 L457.4,409.3 L458.2,409.3 L459.0,409.3 L459.8,409.2 L460.6,409.5 L461.4,410.2 L462.2,410.7 L463.0,411.0 L463.8,411.8 L464.6,411.7 L465.4,412.0 L466.2,412.4 L467.0,413.3 L467.8,413.8 L468.6,413.7 L469.4,413.9 L470.2,414.4 L471.0,414.7 L471.8,415.1 L472.6,415.3 L473.4,415.6 L474.2,416.1 L475.0,416.4 L475.8,417.0 L476.6,417.8 L477.4,418.1 L478.2,418.9 L479.0,419.4 L479.8,419.9 L480.6,420.3 L481.4,420.9 L482.2,421.7 L483.0,422.4 L483.8,421.9 L484.6,422.0 L485.4,422.9 L486.2,424.2 L487.0,423.9 L487.8,423.9 L488.6,425.0 L489.4,425.6 L490.2,425.6 L491.0,425.5 L491.8,425.3 L492.6,426.3 L493.4,426.9 L494.2,427.1 L495.0,427.5 L495.8,428.0 L496.6,428.7 L497.4,429.2 L498.2,429.0 L499.0,428.9 L499.8,428.9 L500.6,429.8 L501.4,430.7 L502.2,431.3 L503.0,431.4 L503.8,431.6 L504.6,431.6 L505.4,431.6 L506.2,432.0 L507.0,432.7 L507.8,432.8 L508.6,433.4 L509.4,434.1 L510.2,434.4 L511.0,434.6 L511.8,434.5 L512.6,434.8 L513.4,435.5 L514.2,436.2 L515.0,436.7 L515.8,436.9" fill="none" stroke="#1E6FE0" stroke-width="3.1" stroke-linejoin="round" stroke-linecap="round"/>
<path d="M135.0,437.9 L135.8,437.3 L136.6,437.6 L137.4,438.3 L138.2,438.5 L139.0,438.4 L139.8,439.0 L140.6,438.5 L141.4,438.0 L142.2,438.1 L143.0,437.8 L143.8,437.1 L144.6,437.1 L145.4,437.1 L146.2,436.8 L147.0,436.3 L147.8,435.8 L148.6,436.1 L149.4,436.6 L150.2,437.0 L151.0,437.1 L151.8,437.4 L152.6,437.4 L153.4,437.2 L154.2,436.8 L155.0,436.8 L155.8,436.0 L156.6,435.4 L157.4,434.6 L158.2,434.9 L159.0,434.9 L159.8,434.2 L160.6,433.1 L161.4,432.7 L162.2,432.6 L163.0,432.9 L163.8,432.1 L164.6,431.3 L165.4,430.7 L166.2,430.1 L167.0,429.2 L167.8,428.7 L168.6,428.7 L169.4,428.6 L170.2,428.2 L171.0,427.4 L171.8,426.6 L172.6,425.9 L173.4,425.8 L174.2,425.6 L175.0,424.7 L175.8,423.5 L176.6,422.9 L177.4,422.7 L178.2,422.0 L179.0,421.0 L179.8,420.2 L180.6,419.5 L181.4,418.4 L182.2,417.0 L183.0,416.3 L183.8,415.7 L184.6,414.7 L185.4,413.9 L186.2,413.4 L187.0,412.9 L187.8,411.6 L188.6,409.7 L189.4,408.6 L190.2,407.8 L191.0,406.9 L191.8,406.5 L192.6,406.0 L193.4,404.1 L194.2,402.8 L195.0,402.5 L195.8,401.6 L196.6,400.5 L197.4,399.4 L198.2,398.6 L199.0,397.4 L199.8,395.7 L200.6,394.5 L201.4,394.2 L202.2,393.3 L203.0,391.6 L203.8,390.0 L204.6,388.9 L205.4,387.4 L206.2,386.8 L207.0,386.4 L207.8,385.0 L208.6,383.5 L209.4,382.0 L210.2,380.6 L211.0,379.2 L211.8,377.3 L212.6,375.8 L213.4,374.7 L214.2,373.8 L215.0,372.8 L215.8,371.1 L216.6,369.3 L217.4,367.9 L218.2,366.6 L219.0,365.8 L219.8,364.9 L220.6,363.0 L221.4,361.2 L222.2,359.5 L223.0,358.2 L223.8,356.5 L224.6,354.5 L225.4,353.1 L226.2,351.9 L227.0,349.5 L227.8,347.4 L228.6,345.8 L229.4,344.2 L230.2,341.8 L231.0,339.2 L231.8,337.5 L232.6,336.5 L233.4,334.2 L234.2,332.2 L235.0,330.4 L235.8,328.6 L236.6,326.8 L237.4,325.2 L238.2,323.5 L239.0,322.2 L239.8,321.9 L240.6,320.9 L241.4,318.6 L242.2,317.1 L243.0,316.1 L243.8,315.0 L244.6,313.9 L245.4,312.8 L246.2,311.5 L247.0,311.2 L247.8,310.6 L248.6,308.8 L249.4,307.3 L250.2,306.0 L251.0,304.6 L251.8,303.1 L252.6,300.9 L253.4,299.4 L254.2,298.1 L255.0,296.7 L255.8,295.5 L256.6,294.4 L257.4,293.0 L258.2,291.5 L259.0,291.0 L259.8,291.0 L260.6,289.5 L261.4,288.2 L262.2,287.5 L263.0,285.4 L263.8,283.3 L264.6,282.2 L265.4,282.0 L266.2,282.1 L267.0,281.0 L267.8,280.0 L268.6,279.6 L269.4,279.0 L270.2,278.5 L271.0,278.1 L271.8,277.4 L272.6,276.8 L273.4,275.8 L274.2,275.2 L275.0,275.1 L275.8,275.1 L276.6,274.9 L277.4,274.8 L278.2,274.2 L279.0,273.5 L279.8,273.2 L280.6,272.1 L281.4,270.8 L282.2,271.1 L283.0,271.9 L283.8,272.3 L284.6,271.9 L285.4,271.6 L286.2,271.8 L287.0,272.3 L287.8,271.6 L288.6,271.1 L289.4,271.7 L290.2,272.5 L291.0,271.9 L291.8,271.3 L292.6,271.6 L293.4,272.7 L294.2,273.8 L295.0,274.1 L295.8,273.9 L296.6,274.2 L297.4,275.1 L298.2,275.4 L299.0,275.8 L299.8,276.1 L300.6,276.7 L301.4,277.2 L302.2,277.1 L303.0,277.6 L303.8,278.8 L304.6,279.7 L305.4,280.6 L306.2,281.5 L307.0,282.4 L307.8,282.9 L308.6,283.3 L309.4,283.9 L310.2,284.8 L311.0,285.7 L311.8,286.5 L312.6,287.6 L313.4,288.8 L314.2,289.1 L315.0,288.6 L315.8,289.4 L316.6,290.7 L317.4,291.4 L318.2,292.7 L319.0,294.4 L319.8,294.9 L320.6,295.3 L321.4,296.7 L322.2,298.0 L323.0,298.8 L323.8,299.6 L324.6,300.2 L325.4,301.0 L326.2,301.8 L327.0,302.9 L327.8,304.3 L328.6,305.0 L329.4,305.8 L330.2,307.0 L331.0,308.1 L331.8,309.2 L332.6,310.2 L333.4,311.0 L334.2,312.0 L335.0,313.2 L335.8,314.5 L336.6,315.4 L337.4,315.8 L338.2,316.4 L339.0,317.2 L339.8,318.6 L340.6,320.0 L341.4,321.4 L342.2,322.5 L343.0,322.9 L343.8,323.0 L344.6,324.5 L345.4,326.9 L346.2,328.1 L347.0,327.9 L347.8,328.7 L348.6,329.5 L349.4,329.8 L350.2,331.0 L351.0,332.2 L351.8,332.7 L352.6,333.3 L353.4,334.2 L354.2,335.5 L355.0,335.8 L355.8,335.7 L356.6,336.7 L357.4,337.6 L358.2,338.0 L359.0,338.8 L359.8,339.7 L360.6,339.9 L361.4,340.4 L362.2,341.1 L363.0,341.7 L363.8,342.1 L364.6,342.4 L365.4,343.2 L366.2,344.4 L367.0,345.4 L367.8,346.1 L368.6,346.6 L369.4,347.3 L370.2,348.0 L371.0,348.5 L371.8,348.6 L372.6,348.7 L373.4,348.6 L374.2,348.9 L375.0,349.6 L375.8,350.6 L376.6,351.7 L377.4,352.8 L378.2,353.2 L379.0,353.8 L379.8,354.5 L380.6,355.5 L381.4,356.4 L382.2,356.8 L383.0,357.2 L383.8,358.0 L384.6,358.7 L385.4,359.3 L386.2,359.5 L387.0,359.6 L387.8,360.5 L388.6,361.1 L389.4,361.2 L390.2,361.6 L391.0,362.3 L391.8,363.4 L392.6,363.9 L393.4,363.6 L394.2,363.8 L395.0,364.1 L395.8,365.3 L396.6,366.3 L397.4,366.2 L398.2,366.1 L399.0,366.9 L399.8,366.8 L400.6,366.3 L401.4,366.9 L402.2,368.1 L403.0,368.9 L403.8,369.1 L404.6,369.3 L405.4,370.1 L406.2,370.4 L407.0,370.9 L407.8,371.3 L408.6,371.9 L409.4,372.6 L410.2,373.4 L411.0,373.3 L411.8,374.1 L412.6,374.5 L413.4,374.8 L414.2,374.7 L415.0,375.2 L415.8,376.0 L416.6,377.1 L417.4,377.5 L418.2,377.9 L419.0,378.5 L419.8,379.2 L420.6,379.4 L421.4,379.8 L422.2,380.8 L423.0,381.6 L423.8,382.7 L424.6,382.8 L425.4,382.9 L426.2,383.6 L427.0,384.5 L427.8,385.0 L428.6,385.3 L429.4,384.8 L430.2,385.2 L431.0,386.6 L431.8,387.9 L432.6,388.2 L433.4,388.1 L434.2,388.3 L435.0,388.9 L435.8,389.6 L436.6,390.8 L437.4,391.5 L438.2,391.9 L439.0,392.1 L439.8,393.2 L440.6,394.5 L441.4,395.3 L442.2,394.7 L443.0,395.2 L443.8,396.1 L444.6,397.0 L445.4,397.7 L446.2,398.1 L447.0,397.9 L447.8,398.0 L448.6,398.0 L449.4,398.2 L450.2,398.7 L451.0,399.7 L451.8,400.9 L452.6,401.0 L453.4,400.8 L454.2,401.9 L455.0,403.4 L455.8,404.0 L456.6,404.4 L457.4,405.0 L458.2,405.7 L459.0,405.9 L459.8,405.9 L460.6,405.8 L461.4,405.9 L462.2,406.6 L463.0,407.5 L463.8,407.7 L464.6,408.1 L465.4,408.9 L466.2,409.8 L467.0,409.6 L467.8,409.6 L468.6,410.4 L469.4,411.4 L470.2,411.5 L471.0,411.4 L471.8,412.2 L472.6,413.1 L473.4,413.8 L474.2,414.7 L475.0,415.1 L475.8,415.1 L476.6,415.9 L477.4,417.0 L478.2,417.6 L479.0,417.6 L479.8,417.8 L480.6,418.5 L481.4,418.7 L482.2,418.4 L483.0,419.0 L483.8,419.9 L484.6,420.8 L485.4,421.1 L486.2,421.2 L487.0,421.9 L487.8,422.5 L488.6,423.2 L489.4,423.7 L490.2,423.6 L491.0,424.1 L491.8,424.8 L492.6,425.3 L493.4,425.8 L494.2,425.5 L495.0,425.3 L495.8,426.5 L496.6,427.6 L497.4,428.1 L498.2,428.1 L499.0,428.8 L499.8,429.6 L500.6,430.2 L501.4,430.4 L502.2,430.9 L503.0,431.1 L503.8,431.2 L504.6,431.7 L505.4,432.0 L506.2,431.7 L507.0,432.4 L507.8,432.6 L508.6,433.0 L509.4,434.3 L510.2,435.8 L511.0,436.2 L511.8,436.2 L512.6,435.7 L513.4,435.8 L514.2,435.8 L515.0,436.5 L515.8,437.0" fill="none" stroke="#2FAE66" stroke-width="3.1" stroke-linejoin="round" stroke-linecap="round"/>
<path d="M135.0,439.0 L135.8,438.3 L136.6,437.7 L137.4,437.5 L138.2,438.2 L139.0,439.0 L139.8,438.7 L140.6,438.7 L141.4,438.7 L142.2,438.4 L143.0,438.7 L143.8,438.0 L144.6,438.1 L145.4,438.6 L146.2,437.8 L147.0,437.0 L147.8,436.8 L148.6,436.4 L149.4,436.0 L150.2,436.3 L151.0,437.2 L151.8,436.6 L152.6,435.4 L153.4,435.1 L154.2,434.5 L155.0,433.6 L155.8,432.4 L156.6,431.3 L157.4,430.6 L158.2,430.3 L159.0,429.6 L159.8,428.8 L160.6,427.7 L161.4,426.7 L162.2,426.0 L163.0,425.5 L163.8,424.7 L164.6,423.7 L165.4,422.5 L166.2,422.1 L167.0,421.6 L167.8,421.1 L168.6,420.2 L169.4,418.9 L170.2,418.1 L171.0,417.5 L171.8,416.9 L172.6,416.2 L173.4,415.0 L174.2,413.5 L175.0,412.1 L175.8,411.2 L176.6,410.7 L177.4,409.7 L178.2,408.7 L179.0,408.0 L179.8,407.0 L180.6,405.4 L181.4,404.9 L182.2,404.2 L183.0,403.0 L183.8,402.3 L184.6,402.2 L185.4,401.3 L186.2,400.2 L187.0,399.1 L187.8,398.1 L188.6,396.8 L189.4,396.0 L190.2,394.9 L191.0,393.6 L191.8,391.8 L192.6,390.0 L193.4,388.2 L194.2,386.7 L195.0,385.4 L195.8,384.2 L196.6,382.7 L197.4,381.3 L198.2,380.1 L199.0,379.0 L199.8,377.4 L200.6,375.1 L201.4,372.7 L202.2,371.1 L203.0,369.2 L203.8,367.4 L204.6,366.1 L205.4,364.7 L206.2,362.1 L207.0,359.5 L207.8,356.5 L208.6,354.0 L209.4,351.9 L210.2,350.1 L211.0,347.8 L211.8,345.5 L212.6,343.6 L213.4,341.8 L214.2,340.0 L215.0,337.9 L215.8,335.2 L216.6,333.2 L217.4,331.2 L218.2,328.9 L219.0,326.7 L219.8,324.4 L220.6,321.5 L221.4,318.6 L222.2,316.3 L223.0,314.5 L223.8,311.8 L224.6,309.5 L225.4,307.4 L226.2,304.8 L227.0,302.3 L227.8,300.3 L228.6,298.0 L229.4,295.6 L230.2,292.9 L231.0,290.3 L231.8,287.9 L232.6,285.3 L233.4,282.8 L234.2,279.5 L235.0,276.4 L235.8,274.0 L236.6,271.5 L237.4,268.5 L238.2,265.5 L239.0,262.9 L239.8,260.2 L240.6,256.9 L241.4,253.8 L242.2,252.0 L243.0,250.0 L243.8,247.2 L244.6,244.5 L245.4,241.9 L246.2,240.0 L247.0,238.0 L247.8,235.9 L248.6,233.9 L249.4,231.9 L250.2,229.8 L251.0,227.9 L251.8,225.7 L252.6,224.4 L253.4,223.6 L254.2,221.4 L255.0,219.3 L255.8,217.5 L256.6,216.0 L257.4,214.2 L258.2,213.1 L259.0,212.2 L259.8,210.8 L260.6,208.6 L261.4,207.3 L262.2,206.0 L263.0,204.7 L263.8,204.8 L264.6,203.9 L265.4,202.3 L266.2,201.2 L267.0,200.4 L267.8,199.5 L268.6,199.0 L269.4,198.0 L270.2,197.3 L271.0,197.1 L271.8,196.8 L272.6,196.3 L273.4,195.1 L274.2,194.2 L275.0,194.1 L275.8,194.1 L276.6,194.2 L277.4,193.7 L278.2,192.8 L279.0,193.0 L279.8,193.7 L280.6,194.3 L281.4,194.3 L282.2,193.4 L283.0,193.0 L283.8,193.0 L284.6,192.8 L285.4,193.6 L286.2,194.5 L287.0,195.3 L287.8,195.6 L288.6,196.2 L289.4,197.3 L290.2,197.4 L291.0,197.3 L291.8,197.6 L292.6,198.3 L293.4,200.1 L294.2,201.0 L295.0,201.7 L295.8,203.0 L296.6,203.1 L297.4,203.2 L298.2,203.9 L299.0,205.5 L299.8,207.0 L300.6,208.3 L301.4,210.3 L302.2,211.9 L303.0,213.1 L303.8,215.1 L304.6,216.9 L305.4,217.7 L306.2,218.3 L307.0,219.5 L307.8,221.2 L308.6,222.6 L309.4,223.0 L310.2,223.5 L311.0,225.6 L311.8,227.6 L312.6,228.9 L313.4,230.8 L314.2,232.5 L315.0,233.8 L315.8,234.7 L316.6,235.8 L317.4,237.3 L318.2,239.2 L319.0,241.0 L319.8,242.4 L320.6,243.7 L321.4,245.4 L322.2,247.0 L323.0,248.3 L323.8,249.4 L324.6,250.3 L325.4,251.3 L326.2,252.7 L327.0,254.0 L327.8,255.5 L328.6,257.2 L329.4,258.2 L330.2,259.7 L331.0,261.7 L331.8,262.9 L332.6,263.9 L333.4,265.6 L334.2,267.0 L335.0,267.8 L335.8,269.0 L336.6,270.6 L337.4,272.1 L338.2,273.6 L339.0,275.0 L339.8,276.8 L340.6,278.6 L341.4,280.0 L342.2,281.0 L343.0,282.1 L343.8,283.7 L344.6,285.0 L345.4,286.6 L346.2,287.9 L347.0,288.4 L347.8,289.6 L348.6,291.5 L349.4,292.8 L350.2,294.2 L351.0,295.2 L351.8,296.6 L352.6,297.8 L353.4,299.2 L354.2,300.7 L355.0,302.1 L355.8,302.9 L356.6,304.0 L357.4,305.6 L358.2,306.7 L359.0,307.4 L359.8,308.2 L360.6,308.7 L361.4,309.1 L362.2,310.6 L363.0,312.5 L363.8,313.2 L364.6,314.0 L365.4,315.0 L366.2,316.4 L367.0,318.0 L367.8,319.6 L368.6,320.6 L369.4,321.5 L370.2,322.7 L371.0,323.3 L371.8,323.6 L372.6,325.4 L373.4,327.0 L374.2,327.5 L375.0,328.3 L375.8,328.9 L376.6,329.7 L377.4,331.3 L378.2,332.5 L379.0,333.6 L379.8,334.8 L380.6,336.2 L381.4,337.5 L382.2,337.8 L383.0,338.0 L383.8,339.0 L384.6,340.6 L385.4,342.1 L386.2,342.9 L387.0,343.8 L387.8,344.8 L388.6,345.8 L389.4,346.2 L390.2,346.1 L391.0,346.3 L391.8,346.9 L392.6,348.1 L393.4,349.3 L394.2,349.8 L395.0,350.4 L395.8,351.1 L396.6,351.3 L397.4,352.8 L398.2,353.6 L399.0,353.8 L399.8,354.1 L400.6,354.7 L401.4,355.1 L402.2,355.6 L403.0,356.2 L403.8,356.8 L404.6,357.3 L405.4,358.0 L406.2,357.8 L407.0,358.3 L407.8,360.1 L408.6,360.6 L409.4,360.5 L410.2,361.2 L411.0,361.6 L411.8,362.2 L412.6,362.2 L413.4,362.2 L414.2,362.8 L415.0,363.9 L415.8,365.4 L416.6,366.3 L417.4,366.3 L418.2,366.8 L419.0,368.0 L419.8,368.8 L420.6,368.9 L421.4,369.4 L422.2,370.2 L423.0,370.7 L423.8,371.5 L424.6,372.5 L425.4,373.1 L426.2,373.5 L427.0,374.8 L427.8,376.0 L428.6,376.6 L429.4,377.2 L430.2,377.9 L431.0,378.7 L431.8,379.7 L432.6,380.2 L433.4,380.9 L434.2,382.1 L435.0,382.6 L435.8,382.4 L436.6,383.2 L437.4,384.1 L438.2,384.8 L439.0,385.6 L439.8,387.1 L440.6,387.7 L441.4,388.3 L442.2,389.1 L443.0,390.2 L443.8,391.1 L444.6,391.8 L445.4,391.4 L446.2,391.8 L447.0,392.7 L447.8,392.8 L448.6,393.5 L449.4,394.5 L450.2,395.1 L451.0,395.9 L451.8,396.8 L452.6,397.5 L453.4,398.6 L454.2,399.4 L455.0,400.1 L455.8,400.8 L456.6,401.1 L457.4,401.6 L458.2,402.2 L459.0,402.9 L459.8,403.3 L460.6,403.4 L461.4,403.7 L462.2,404.6 L463.0,405.2 L463.8,405.9 L464.6,406.9 L465.4,408.1 L466.2,408.8 L467.0,409.2 L467.8,409.6 L468.6,410.9 L469.4,411.1 L470.2,410.8 L471.0,410.8 L471.8,411.6 L472.6,412.6 L473.4,413.3 L474.2,413.6 L475.0,414.6 L475.8,414.6 L476.6,414.3 L477.4,415.0 L478.2,416.0 L479.0,416.7 L479.8,417.8 L480.6,418.6 L481.4,418.5 L482.2,419.2 L483.0,420.5 L483.8,421.8 L484.6,422.0 L485.4,421.8 L486.2,421.8 L487.0,422.2 L487.8,422.6 L488.6,423.0 L489.4,423.3 L490.2,423.7 L491.0,424.5 L491.8,425.5 L492.6,426.0 L493.4,426.0 L494.2,425.8 L495.0,425.7 L495.8,425.9 L496.6,426.8 L497.4,427.6 L498.2,427.3 L499.0,427.7 L499.8,428.6 L500.6,428.6 L501.4,428.3 L502.2,428.8 L503.0,429.2 L503.8,430.4 L504.6,430.9 L505.4,430.9 L506.2,431.1 L507.0,431.7 L507.8,431.7 L508.6,432.1 L509.4,432.7 L510.2,433.1 L511.0,434.3 L511.8,435.2 L512.6,435.1 L513.4,436.0 L514.2,436.5 L515.0,436.3 L515.8,436.5" fill="none" stroke="#B46AE6" stroke-width="3.1" stroke-linejoin="round" stroke-linecap="round"/>
<path d="M135.0,437.9 L135.8,438.2 L136.6,438.8 L137.4,438.9 L138.2,439.2 L139.0,439.2 L139.8,438.4 L140.6,438.4 L141.4,438.6 L142.2,439.1 L143.0,438.9 L143.8,437.9 L144.6,437.6 L145.4,438.0 L146.2,438.4 L147.0,438.5 L147.8,438.4 L148.6,438.4 L149.4,438.3 L150.2,437.6 L151.0,436.7 L151.8,436.9 L152.6,437.6 L153.4,438.0 L154.2,437.9 L155.0,437.4 L155.8,437.2 L156.6,437.2 L157.4,436.4 L158.2,436.2 L159.0,436.8 L159.8,436.7 L160.6,436.1 L161.4,435.5 L162.2,434.4 L163.0,433.6 L163.8,433.4 L164.6,432.4 L165.4,430.7 L166.2,429.0 L167.0,427.5 L167.8,426.7 L168.6,426.1 L169.4,425.3 L170.2,424.6 L171.0,424.0 L171.8,423.1 L172.6,422.1 L173.4,420.5 L174.2,419.1 L175.0,417.9 L175.8,416.9 L176.6,415.4 L177.4,414.3 L178.2,413.3 L179.0,412.1 L179.8,410.2 L180.6,408.5 L181.4,406.8 L182.2,405.7 L183.0,404.7 L183.8,403.5 L184.6,402.4 L185.4,400.7 L186.2,398.9 L187.0,397.8 L187.8,396.7 L188.6,394.5 L189.4,392.3 L190.2,390.9 L191.0,389.7 L191.8,388.3 L192.6,386.9 L193.4,385.6 L194.2,384.6 L195.0,383.3 L195.8,381.0 L196.6,378.7 L197.4,376.8 L198.2,374.3 L199.0,372.2 L199.8,370.1 L200.6,367.3 L201.4,364.7 L202.2,363.4 L203.0,361.5 L203.8,359.4 L204.6,357.1 L205.4,354.7 L206.2,352.3 L207.0,350.5 L207.8,348.0 L208.6,344.8 L209.4,341.9 L210.2,339.2 L211.0,336.6 L211.8,334.5 L212.6,331.8 L213.4,329.4 L214.2,327.3 L215.0,324.9 L215.8,322.4 L216.6,320.1 L217.4,316.7 L218.2,314.0 L219.0,311.2 L219.8,307.3 L220.6,303.4 L221.4,300.4 L222.2,297.9 L223.0,295.4 L223.8,292.1 L224.6,288.9 L225.4,285.5 L226.2,281.4 L227.0,277.4 L227.8,273.6 L228.6,270.8 L229.4,268.0 L230.2,264.8 L231.0,261.5 L231.8,258.1 L232.6,254.7 L233.4,251.2 L234.2,248.1 L235.0,245.1 L235.8,242.2 L236.6,239.2 L237.4,235.7 L238.2,232.2 L239.0,229.2 L239.8,226.8 L240.6,224.2 L241.4,220.2 L242.2,216.6 L243.0,213.8 L243.8,211.1 L244.6,208.3 L245.4,205.4 L246.2,202.2 L247.0,198.5 L247.8,195.0 L248.6,192.6 L249.4,189.8 L250.2,186.5 L251.0,183.8 L251.8,181.3 L252.6,178.9 L253.4,177.3 L254.2,175.4 L255.0,173.7 L255.8,171.6 L256.6,169.4 L257.4,167.1 L258.2,164.8 L259.0,162.3 L259.8,159.7 L260.6,158.3 L261.4,157.3 L262.2,155.5 L263.0,153.5 L263.8,152.7 L264.6,151.8 L265.4,150.4 L266.2,149.5 L267.0,148.9 L267.8,148.5 L268.6,148.4 L269.4,147.8 L270.2,146.5 L271.0,146.1 L271.8,145.5 L272.6,145.1 L273.4,144.8 L274.2,144.5 L275.0,144.2 L275.8,144.5 L276.6,144.7 L277.4,144.0 L278.2,143.7 L279.0,144.0 L279.8,144.0 L280.6,144.7 L281.4,145.4 L282.2,145.6 L283.0,146.1 L283.8,146.8 L284.6,146.8 L285.4,146.3 L286.2,146.6 L287.0,148.3 L287.8,149.6 L288.6,151.0 L289.4,152.9 L290.2,154.3 L291.0,155.2 L291.8,156.0 L292.6,157.5 L293.4,158.9 L294.2,159.8 L295.0,161.5 L295.8,163.4 L296.6,164.7 L297.4,167.4 L298.2,170.1 L299.0,171.3 L299.8,172.1 L300.6,174.2 L301.4,176.2 L302.2,177.9 L303.0,179.7 L303.8,181.5 L304.6,183.5 L305.4,185.2 L306.2,186.5 L307.0,188.5 L307.8,190.3 L308.6,191.3 L309.4,193.0 L310.2,195.2 L311.0,196.8 L311.8,197.8 L312.6,199.9 L313.4,202.3 L314.2,204.4 L315.0,206.5 L315.8,209.0 L316.6,211.5 L317.4,213.5 L318.2,214.8 L319.0,217.0 L319.8,218.9 L320.6,219.6 L321.4,220.4 L322.2,222.9 L323.0,224.9 L323.8,226.3 L324.6,228.2 L325.4,230.6 L326.2,232.7 L327.0,234.4 L327.8,235.7 L328.6,237.0 L329.4,238.6 L330.2,240.7 L331.0,242.3 L331.8,243.5 L332.6,245.1 L333.4,247.6 L334.2,249.2 L335.0,250.0 L335.8,251.5 L336.6,254.0 L337.4,256.3 L338.2,258.0 L339.0,259.3 L339.8,260.4 L340.6,262.3 L341.4,264.2 L342.2,266.1 L343.0,268.7 L343.8,270.2 L344.6,271.2 L345.4,272.9 L346.2,274.7 L347.0,276.1 L347.8,277.3 L348.6,278.4 L349.4,279.5 L350.2,280.9 L351.0,282.6 L351.8,284.5 L352.6,285.7 L353.4,286.9 L354.2,288.0 L355.0,290.2 L355.8,291.9 L356.6,293.4 L357.4,293.9 L358.2,294.7 L359.0,295.8 L359.8,297.7 L360.6,299.7 L361.4,301.2 L362.2,302.1 L363.0,304.0 L363.8,306.2 L364.6,307.4 L365.4,308.6 L366.2,309.5 L367.0,310.4 L367.8,311.9 L368.6,314.0 L369.4,315.9 L370.2,317.5 L371.0,318.6 L371.8,319.9 L372.6,321.6 L373.4,322.7 L374.2,323.5 L375.0,325.2 L375.8,326.3 L376.6,326.8 L377.4,327.8 L378.2,329.0 L379.0,330.2 L379.8,331.4 L380.6,332.1 L381.4,333.5 L382.2,334.6 L383.0,335.9 L383.8,336.8 L384.6,336.9 L385.4,337.5 L386.2,338.6 L387.0,338.8 L387.8,339.4 L388.6,340.6 L389.4,342.1 L390.2,342.9 L391.0,343.7 L391.8,345.4 L392.6,346.4 L393.4,346.4 L394.2,346.9 L395.0,347.7 L395.8,348.6 L396.6,349.4 L397.4,350.3 L398.2,350.8 L399.0,351.2 L399.8,351.6 L400.6,352.5 L401.4,353.4 L402.2,354.5 L403.0,355.4 L403.8,356.1 L404.6,356.7 L405.4,358.1 L406.2,358.5 L407.0,359.0 L407.8,359.6 L408.6,360.5 L409.4,361.4 L410.2,361.8 L411.0,362.5 L411.8,363.4 L412.6,363.7 L413.4,363.4 L414.2,363.6 L415.0,363.8 L415.8,364.7 L416.6,366.1 L417.4,367.4 L418.2,368.0 L419.0,369.0 L419.8,369.9 L420.6,371.3 L421.4,371.8 L422.2,372.3 L423.0,373.1 L423.8,374.0 L424.6,374.0 L425.4,375.0 L426.2,375.2 L427.0,375.7 L427.8,376.2 L428.6,377.0 L429.4,377.8 L430.2,378.5 L431.0,379.2 L431.8,380.4 L432.6,381.0 L433.4,381.7 L434.2,383.0 L435.0,384.3 L435.8,384.9 L436.6,385.4 L437.4,386.4 L438.2,387.1 L439.0,387.7 L439.8,388.8 L440.6,389.6 L441.4,389.8 L442.2,390.2 L443.0,390.5 L443.8,391.4 L444.6,392.2 L445.4,392.9 L446.2,393.7 L447.0,394.7 L447.8,395.3 L448.6,395.7 L449.4,395.7 L450.2,396.3 L451.0,397.2 L451.8,398.2 L452.6,399.0 L453.4,399.3 L454.2,400.0 L455.0,401.4 L455.8,401.5 L456.6,401.9 L457.4,403.1 L458.2,402.7 L459.0,402.5 L459.8,403.5 L460.6,404.5 L461.4,405.6 L462.2,405.8 L463.0,406.4 L463.8,407.9 L464.6,408.6 L465.4,409.0 L466.2,409.2 L467.0,409.1 L467.8,409.6 L468.6,410.5 L469.4,411.7 L470.2,413.2 L471.0,413.2 L471.8,413.3 L472.6,413.5 L473.4,414.7 L474.2,415.8 L475.0,415.7 L475.8,415.6 L476.6,416.8 L477.4,417.6 L478.2,417.8 L479.0,418.3 L479.8,418.5 L480.6,419.7 L481.4,420.4 L482.2,420.4 L483.0,421.0 L483.8,421.9 L484.6,421.8 L485.4,422.3 L486.2,423.0 L487.0,423.7 L487.8,424.3 L488.6,424.4 L489.4,425.0 L490.2,425.6 L491.0,426.3 L491.8,426.3 L492.6,426.3 L493.4,426.3 L494.2,426.1 L495.0,426.5 L495.8,427.0 L496.6,427.3 L497.4,427.9 L498.2,428.8 L499.0,429.0 L499.8,429.3 L500.6,430.0 L501.4,431.1 L502.2,431.2 L503.0,431.1 L503.8,431.4 L504.6,432.1 L505.4,432.4 L506.2,433.1 L507.0,433.3 L507.8,433.5 L508.6,434.0 L509.4,434.2 L510.2,434.2 L511.0,434.8 L511.8,434.7 L512.6,434.5 L513.4,435.6 L514.2,436.4 L515.0,436.3 L515.8,436.8 L516.6,437.6 L517.4,438.0" fill="none" stroke="#D09A00" stroke-width="3.1" stroke-linejoin="round" stroke-linecap="round"/>
<path d="M166.0,431.2 L168.0,430.7 L170.0,430.1 L172.0,429.3 L174.0,428.4 L176.0,427.6 L178.0,426.8 L180.0,426.1 L182.0,425.3 L184.0,424.6 L186.0,423.8 L188.0,422.9 L190.0,422.1 L192.0,421.2 L194.0,420.3 L196.0,419.4 L198.0,418.4 L200.0,417.4 L202.0,416.4 L204.0,415.3 L206.0,414.2 L208.0,413.0 L210.0,411.7 L212.0,410.4 L214.0,409.0 L216.0,407.5 L218.0,406.0 L220.0,404.5 L222.0,402.8 L224.0,401.0 L226.0,399.1 L228.0,397.1 L230.0,395.3 L232.0,393.4 L234.0,391.8 L236.0,390.3 L238.0,388.8 L240.0,387.4 L242.0,386.1 L244.0,384.7 L246.0,383.4 L248.0,382.0 L250.0,380.6 L252.0,379.1 L254.0,377.7 L256.0,376.2 L258.0,374.8 L260.0,373.5 L262.0,372.2 L264.0,371.0 L266.0,369.8 L268.0,368.6 L270.0,367.5 L272.0,366.6 L274.0,365.7 L276.0,365.0 L278.0,364.3 L280.0,363.6 L282.0,363.0 L284.0,362.5 L286.0,362.2 L288.0,362.1 L290.0,362.1 L292.0,362.1 L294.0,362.3 L296.0,362.4 L298.0,362.6 L300.0,362.8 L302.0,363.1 L304.0,363.4 L306.0,363.8 L308.0,364.3 L310.0,364.8 L312.0,365.4 L314.0,366.0 L316.0,366.7 L318.0,367.4 L320.0,368.2" fill="none" stroke="#B9731C" stroke-width="2.6" stroke-linecap="round" stroke-dasharray="14 1.5" opacity="0.95"/><path d="M318.0,370.6 L320.0,371.7 L322.0,373.0 L324.0,374.2 L326.0,375.6 L328.0,377.0 L330.0,378.4 L332.0,379.8 L334.0,381.3 L336.0,382.8 L338.0,384.4 L340.0,386.0 L342.0,387.5 L344.0,389.1 L346.0,390.7 L348.0,392.3 L350.0,393.9 L352.0,395.5 L354.0,397.1 L356.0,398.7 L358.0,400.3 L360.0,401.8 L362.0,403.3 L364.0,404.8 L366.0,406.3 L368.0,407.7 L370.0,409.1 L372.0,410.5 L374.0,411.8 L376.0,413.2 L378.0,414.4 L380.0,415.7 L382.0,416.8 L384.0,418.0 L386.0,419.1 L388.0,420.2 L390.0,421.2 L392.0,422.2 L394.0,423.1 L396.0,424.0 L398.0,424.9 L400.0,425.7 L402.0,426.5 L404.0,427.2 L406.0,427.9 L408.0,428.6 L410.0,429.2 L412.0,429.8 L414.0,430.4 L416.0,430.9 L418.0,431.4 L420.0,431.9 L422.0,432.3 L424.0,432.8 L426.0,433.1 L428.0,433.5 L430.0,433.8 L432.0,434.1 L434.0,434.4 L436.0,434.7 L438.0,435.0" fill="none" stroke="#EFA560" stroke-width="1.1" stroke-dasharray="4 2.5"/>
</g>
<g filter="url(#soft)">
<g>
<g fill="url(#atomg)" stroke="#38386c" stroke-width="0.7">
<g>
<path d="M376.6,130.7L376.6,139.1M358.6,139.8L367.8,147.0M367.5,134.4L367.8,147.0M367.5,134.4L376.6,130.7M367.8,147.0L376.6,139.1M376.6,130.7L386.2,132.4M386.2,132.4L394.3,130.4M394.3,130.4L402.4,132.7M394.3,130.4L394.3,138.5M385.0,146.7L394.3,150.5M403.1,146.7L394.3,150.5M394.3,138.5L385.0,146.7M394.3,138.5L403.1,146.7M376.6,139.1L385.0,146.7M412.0,130.7L412.0,139.1M402.4,132.7L412.0,130.7M403.1,146.7L412.0,139.1M391.7,178.4L384.0,183.0M375.4,173.8L378.8,165.5M378.8,165.5L390.3,166.0M390.3,166.0L391.7,178.4M390.3,166.0L396.0,162.0M396.0,162.0L394.3,150.5M412.0,130.7L421.6,132.4M421.6,132.4L429.7,130.4M429.7,130.4L437.8,132.7M429.7,130.4L429.7,138.5M420.4,146.7L429.7,150.5M438.5,146.7L429.7,150.5M429.7,138.5L420.4,146.7M429.7,138.5L438.5,146.7M412.0,139.1L420.4,146.7M447.4,130.7L447.4,139.1M437.8,132.7L447.4,130.7M438.5,146.7L447.4,139.1M427.1,178.4L419.4,183.0M410.8,173.8L414.2,165.5M414.2,165.5L425.7,166.0M425.7,166.0L427.1,178.4M425.7,166.0L431.4,162.0M431.4,162.0L429.7,150.5M447.4,130.7L457.0,132.4M457.0,132.4L465.1,130.4M465.1,130.4L473.2,132.7M465.1,130.4L465.1,138.5M455.8,146.7L465.1,150.5M473.9,146.7L465.1,150.5M465.1,138.5L455.8,146.7M465.1,138.5L473.9,146.7M447.4,139.1L455.8,146.7M482.8,130.7L482.8,139.1M473.2,132.7L482.8,130.7M473.9,146.7L482.8,139.1M462.5,178.4L454.8,183.0M446.2,173.8L449.6,165.5M449.6,165.5L461.1,166.0M461.1,166.0L462.5,178.4M461.1,166.0L466.8,162.0M466.8,162.0L465.1,150.5M482.8,130.7L492.4,132.4M492.4,132.4L500.5,130.4M500.5,130.4L508.6,132.7M500.5,130.4L500.5,138.5M491.2,146.7L500.5,150.5M509.3,146.7L500.5,150.5M500.5,138.5L491.2,146.7M500.5,138.5L509.3,146.7M482.8,139.1L491.2,146.7M518.2,130.7L518.2,139.1M508.6,132.7L518.2,130.7M509.3,146.7L518.2,139.1M497.9,178.4L490.2,183.0M481.6,173.8L485.0,165.5M485.0,165.5L496.5,166.0M496.5,166.0L497.9,178.4M518.2,130.7L522.3,139.5" stroke="#4c4c88" stroke-width="1.5" fill="none"/>
<path d="M385.1,132.3L383.9,146.6M387.3,132.5L386.1,146.8M401.3,132.8L402.0,146.8M403.5,132.6L404.2,146.6M385.0,147.8L403.1,147.8M385.0,145.6L403.1,145.6M384.8,182.2L376.2,173.0M383.2,183.8L374.6,174.6M420.5,132.3L419.3,146.6M422.7,132.5L421.5,146.8M436.7,132.8L437.4,146.8M438.9,132.6L439.6,146.6M420.4,147.8L438.5,147.8M420.4,145.6L438.5,145.6M420.2,182.2L411.6,173.0M418.6,183.8L410.0,174.6M455.9,132.3L454.7,146.6M458.1,132.5L456.9,146.8M472.1,132.8L472.8,146.8M474.3,132.6L475.0,146.6M455.8,147.8L473.9,147.8M455.8,145.6L473.9,145.6M455.6,182.2L447.0,173.0M454.0,183.8L445.4,174.6M491.3,132.3L490.1,146.6M493.5,132.5L492.3,146.8M507.5,132.8L508.2,146.8M509.7,132.6L510.4,146.6M491.2,147.8L509.3,147.8M491.2,145.6L509.3,145.6M491.0,182.2L482.4,173.0M489.4,183.8L480.8,174.6" stroke="#4c4c88" stroke-width="1.0" fill="none"/>
<circle cx="376.6" cy="130.7" r="3.0"/>
<circle cx="376.6" cy="139.1" r="3.0"/>
<circle cx="358.6" cy="139.8" r="3.0"/>
<circle cx="367.8" cy="147.0" r="3.0"/>
<circle cx="367.5" cy="134.4" r="3.0"/>
<circle cx="394.3" cy="130.4" r="3.0"/>
<circle cx="394.3" cy="138.5" r="3.0"/>
<circle cx="394.3" cy="150.5" r="3.0"/>
<circle cx="386.2" cy="132.4" r="3.0"/>
<circle cx="402.4" cy="132.7" r="3.0"/>
<circle cx="385.0" cy="146.7" r="3.0"/>
<circle cx="403.1" cy="146.7" r="3.0"/>
<circle cx="387.3" cy="145.5" r="3.0"/>
<circle cx="400.9" cy="145.5" r="3.0"/>
<circle cx="412.0" cy="130.7" r="3.0"/>
<circle cx="412.0" cy="139.1" r="3.0"/>
<circle cx="391.7" cy="178.4" r="3.0"/>
<circle cx="384.0" cy="183.0" r="3.0"/>
<circle cx="375.4" cy="173.8" r="3.0"/>
<circle cx="378.8" cy="165.5" r="3.0"/>
<circle cx="390.3" cy="166.0" r="3.0"/>
<circle cx="396.0" cy="162.0" r="3.0"/>
<circle cx="429.7" cy="130.4" r="3.0"/>
<circle cx="429.7" cy="138.5" r="3.0"/>
<circle cx="429.7" cy="150.5" r="3.0"/>
<circle cx="421.6" cy="132.4" r="3.0"/>
<circle cx="437.8" cy="132.7" r="3.0"/>
<circle cx="420.4" cy="146.7" r="3.0"/>
<circle cx="438.5" cy="146.7" r="3.0"/>
<circle cx="422.7" cy="145.5" r="3.0"/>
<circle cx="436.3" cy="145.5" r="3.0"/>
<circle cx="447.4" cy="130.7" r="3.0"/>
<circle cx="447.4" cy="139.1" r="3.0"/>
<circle cx="427.1" cy="178.4" r="3.0"/>
<circle cx="419.4" cy="183.0" r="3.0"/>
<circle cx="410.8" cy="173.8" r="3.0"/>
<circle cx="414.2" cy="165.5" r="3.0"/>
<circle cx="425.7" cy="166.0" r="3.0"/>
<circle cx="431.4" cy="162.0" r="3.0"/>
<circle cx="465.1" cy="130.4" r="3.0"/>
<circle cx="465.1" cy="138.5" r="3.0"/>
<circle cx="465.1" cy="150.5" r="3.0"/>
<circle cx="457.0" cy="132.4" r="3.0"/>
<circle cx="473.2" cy="132.7" r="3.0"/>
<circle cx="455.8" cy="146.7" r="3.0"/>
<circle cx="473.9" cy="146.7" r="3.0"/>
<circle cx="458.1" cy="145.5" r="3.0"/>
<circle cx="471.7" cy="145.5" r="3.0"/>
<circle cx="482.8" cy="130.7" r="3.0"/>
<circle cx="482.8" cy="139.1" r="3.0"/>
<circle cx="462.5" cy="178.4" r="3.0"/>
<circle cx="454.8" cy="183.0" r="3.0"/>
<circle cx="446.2" cy="173.8" r="3.0"/>
<circle cx="449.6" cy="165.5" r="3.0"/>
<circle cx="461.1" cy="166.0" r="3.0"/>
<circle cx="466.8" cy="162.0" r="3.0"/>
<circle cx="500.5" cy="130.4" r="3.0"/>
<circle cx="500.5" cy="138.5" r="3.0"/>
<circle cx="500.5" cy="150.5" r="3.0"/>
<circle cx="492.4" cy="132.4" r="3.0"/>
<circle cx="508.6" cy="132.7" r="3.0"/>
<circle cx="491.2" cy="146.7" r="3.0"/>
<circle cx="509.3" cy="146.7" r="3.0"/>
<circle cx="493.5" cy="145.5" r="3.0"/>
<circle cx="507.1" cy="145.5" r="3.0"/>
<circle cx="518.2" cy="130.7" r="3.0"/>
<circle cx="518.2" cy="139.1" r="3.0"/>
<circle cx="497.9" cy="178.4" r="3.0"/>
<circle cx="490.2" cy="183.0" r="3.0"/>
<circle cx="481.6" cy="173.8" r="3.0"/>
<circle cx="485.0" cy="165.5" r="3.0"/>
<circle cx="496.5" cy="166.0" r="3.0"/>
<circle cx="522.3" cy="139.5" r="3.0"/>
</g>
<g transform="rotate(180 431.15 189.2)">
<path d="M376.6,130.7L376.6,139.1M358.6,139.8L367.8,147.0M367.5,134.4L367.8,147.0M367.5,134.4L376.6,130.7M367.8,147.0L376.6,139.1M376.6,130.7L386.2,132.4M386.2,132.4L394.3,130.4M394.3,130.4L402.4,132.7M394.3,130.4L394.3,138.5M385.0,146.7L394.3,150.5M403.1,146.7L394.3,150.5M394.3,138.5L385.0,146.7M394.3,138.5L403.1,146.7M376.6,139.1L385.0,146.7M412.0,130.7L412.0,139.1M402.4,132.7L412.0,130.7M403.1,146.7L412.0,139.1M391.7,178.4L384.0,183.0M375.4,173.8L378.8,165.5M378.8,165.5L390.3,166.0M390.3,166.0L391.7,178.4M390.3,166.0L396.0,162.0M396.0,162.0L394.3,150.5M412.0,130.7L421.6,132.4M421.6,132.4L429.7,130.4M429.7,130.4L437.8,132.7M429.7,130.4L429.7,138.5M420.4,146.7L429.7,150.5M438.5,146.7L429.7,150.5M429.7,138.5L420.4,146.7M429.7,138.5L438.5,146.7M412.0,139.1L420.4,146.7M447.4,130.7L447.4,139.1M437.8,132.7L447.4,130.7M438.5,146.7L447.4,139.1M427.1,178.4L419.4,183.0M410.8,173.8L414.2,165.5M414.2,165.5L425.7,166.0M425.7,166.0L427.1,178.4M425.7,166.0L431.4,162.0M431.4,162.0L429.7,150.5M447.4,130.7L457.0,132.4M457.0,132.4L465.1,130.4M465.1,130.4L473.2,132.7M465.1,130.4L465.1,138.5M455.8,146.7L465.1,150.5M473.9,146.7L465.1,150.5M465.1,138.5L455.8,146.7M465.1,138.5L473.9,146.7M447.4,139.1L455.8,146.7M482.8,130.7L482.8,139.1M473.2,132.7L482.8,130.7M473.9,146.7L482.8,139.1M462.5,178.4L454.8,183.0M446.2,173.8L449.6,165.5M449.6,165.5L461.1,166.0M461.1,166.0L462.5,178.4M461.1,166.0L466.8,162.0M466.8,162.0L465.1,150.5M482.8,130.7L492.4,132.4M492.4,132.4L500.5,130.4M500.5,130.4L508.6,132.7M500.5,130.4L500.5,138.5M491.2,146.7L500.5,150.5M509.3,146.7L500.5,150.5M500.5,138.5L491.2,146.7M500.5,138.5L509.3,146.7M482.8,139.1L491.2,146.7M518.2,130.7L518.2,139.1M508.6,132.7L518.2,130.7M509.3,146.7L518.2,139.1M497.9,178.4L490.2,183.0M481.6,173.8L485.0,165.5M485.0,165.5L496.5,166.0M496.5,166.0L497.9,178.4M518.2,130.7L522.3,139.5" stroke="#4c4c88" stroke-width="1.5" fill="none"/>
<path d="M385.1,132.3L383.9,146.6M387.3,132.5L386.1,146.8M401.3,132.8L402.0,146.8M403.5,132.6L404.2,146.6M385.0,147.8L403.1,147.8M385.0,145.6L403.1,145.6M384.8,182.2L376.2,173.0M383.2,183.8L374.6,174.6M420.5,132.3L419.3,146.6M422.7,132.5L421.5,146.8M436.7,132.8L437.4,146.8M438.9,132.6L439.6,146.6M420.4,147.8L438.5,147.8M420.4,145.6L438.5,145.6M420.2,182.2L411.6,173.0M418.6,183.8L410.0,174.6M455.9,132.3L454.7,146.6M458.1,132.5L456.9,146.8M472.1,132.8L472.8,146.8M474.3,132.6L475.0,146.6M455.8,147.8L473.9,147.8M455.8,145.6L473.9,145.6M455.6,182.2L447.0,173.0M454.0,183.8L445.4,174.6M491.3,132.3L490.1,146.6M493.5,132.5L492.3,146.8M507.5,132.8L508.2,146.8M509.7,132.6L510.4,146.6M491.2,147.8L509.3,147.8M491.2,145.6L509.3,145.6M491.0,182.2L482.4,173.0M489.4,183.8L480.8,174.6" stroke="#4c4c88" stroke-width="1.0" fill="none"/>
<circle cx="376.6" cy="130.7" r="3.0"/>
<circle cx="376.6" cy="139.1" r="3.0"/>
<circle cx="358.6" cy="139.8" r="3.0"/>
<circle cx="367.8" cy="147.0" r="3.0"/>
<circle cx="367.5" cy="134.4" r="3.0"/>
<circle cx="394.3" cy="130.4" r="3.0"/>
<circle cx="394.3" cy="138.5" r="3.0"/>
<circle cx="394.3" cy="150.5" r="3.0"/>
<circle cx="386.2" cy="132.4" r="3.0"/>
<circle cx="402.4" cy="132.7" r="3.0"/>
<circle cx="385.0" cy="146.7" r="3.0"/>
<circle cx="403.1" cy="146.7" r="3.0"/>
<circle cx="387.3" cy="145.5" r="3.0"/>
<circle cx="400.9" cy="145.5" r="3.0"/>
<circle cx="412.0" cy="130.7" r="3.0"/>
<circle cx="412.0" cy="139.1" r="3.0"/>
<circle cx="391.7" cy="178.4" r="3.0"/>
<circle cx="384.0" cy="183.0" r="3.0"/>
<circle cx="375.4" cy="173.8" r="3.0"/>
<circle cx="378.8" cy="165.5" r="3.0"/>
<circle cx="390.3" cy="166.0" r="3.0"/>
<circle cx="396.0" cy="162.0" r="3.0"/>
<circle cx="429.7" cy="130.4" r="3.0"/>
<circle cx="429.7" cy="138.5" r="3.0"/>
<circle cx="429.7" cy="150.5" r="3.0"/>
<circle cx="421.6" cy="132.4" r="3.0"/>
<circle cx="437.8" cy="132.7" r="3.0"/>
<circle cx="420.4" cy="146.7" r="3.0"/>
<circle cx="438.5" cy="146.7" r="3.0"/>
<circle cx="422.7" cy="145.5" r="3.0"/>
<circle cx="436.3" cy="145.5" r="3.0"/>
<circle cx="447.4" cy="130.7" r="3.0"/>
<circle cx="447.4" cy="139.1" r="3.0"/>
<circle cx="427.1" cy="178.4" r="3.0"/>
<circle cx="419.4" cy="183.0" r="3.0"/>
<circle cx="410.8" cy="173.8" r="3.0"/>
<circle cx="414.2" cy="165.5" r="3.0"/>
<circle cx="425.7" cy="166.0" r="3.0"/>
<circle cx="431.4" cy="162.0" r="3.0"/>
<circle cx="465.1" cy="130.4" r="3.0"/>
<circle cx="465.1" cy="138.5" r="3.0"/>
<circle cx="465.1" cy="150.5" r="3.0"/>
<circle cx="457.0" cy="132.4" r="3.0"/>
<circle cx="473.2" cy="132.7" r="3.0"/>
<circle cx="455.8" cy="146.7" r="3.0"/>
<circle cx="473.9" cy="146.7" r="3.0"/>
<circle cx="458.1" cy="145.5" r="3.0"/>
<circle cx="471.7" cy="145.5" r="3.0"/>
<circle cx="482.8" cy="130.7" r="3.0"/>
<circle cx="482.8" cy="139.1" r="3.0"/>
<circle cx="462.5" cy="178.4" r="3.0"/>
<circle cx="454.8" cy="183.0" r="3.0"/>
<circle cx="446.2" cy="173.8" r="3.0"/>
<circle cx="449.6" cy="165.5" r="3.0"/>
<circle cx="461.1" cy="166.0" r="3.0"/>
<circle cx="466.8" cy="162.0" r="3.0"/>
<circle cx="500.5" cy="130.4" r="3.0"/>
<circle cx="500.5" cy="138.5" r="3.0"/>
<circle cx="500.5" cy="150.5" r="3.0"/>
<circle cx="492.4" cy="132.4" r="3.0"/>
<circle cx="508.6" cy="132.7" r="3.0"/>
<circle cx="491.2" cy="146.7" r="3.0"/>
<circle cx="509.3" cy="146.7" r="3.0"/>
<circle cx="493.5" cy="145.5" r="3.0"/>
<circle cx="507.1" cy="145.5" r="3.0"/>
<circle cx="518.2" cy="130.7" r="3.0"/>
<circle cx="518.2" cy="139.1" r="3.0"/>
<circle cx="497.9" cy="178.4" r="3.0"/>
<circle cx="490.2" cy="183.0" r="3.0"/>
<circle cx="481.6" cy="173.8" r="3.0"/>
<circle cx="485.0" cy="165.5" r="3.0"/>
<circle cx="496.5" cy="166.0" r="3.0"/>
<circle cx="522.3" cy="139.5" r="3.0"/>
</g>
</g></g>
</g>
<path d="M118.4,147h6.5M118.4,217h6.5M118.4,287h6.5M118.4,357h6.5M118.4,427h6.5M118.4,182h3.5M118.4,252h3.5M118.4,322h3.5M118.4,392h3.5M182.7,438.9v-4M264.0,438.9v-4M345.4,438.9v-4M426.7,438.9v-4M508.0,438.9v-4M142.0,438.9v-3M223.4,438.9v-3M304.7,438.9v-3M386.0,438.9v-3M467.3,438.9v-3" stroke="#222" stroke-width="1.3" fill="none"/>
<path d="M118.4,110.9 V438.9 H525.4" stroke="#1a1a1a" stroke-width="1.6" fill="none"/>
<path d="M118.4,111.4 H524.9 V438.9" stroke="#2a2a2a" stroke-width="1.1" fill="none"/>
<g font-size="16.5" font-weight="bold" fill="#111"><path d="M128.5,129.7H169.5" stroke="#4A4A4A" stroke-width="3.2" stroke-linecap="round"/>
<text x="213.2" y="135.0" text-anchor="end">80 V</text>
<path d="M128.5,152.0H169.5" stroke="#F0383C" stroke-width="3.2" stroke-linecap="round"/>
<text x="213.2" y="157.3" text-anchor="end">50 V</text>
<path d="M128.5,174.2H169.5" stroke="#1E6FE0" stroke-width="3.2" stroke-linecap="round"/>
<text x="213.2" y="179.5" text-anchor="end">30 V</text>
<path d="M128.5,196.4H169.5" stroke="#2FAE66" stroke-width="3.2" stroke-linecap="round"/>
<text x="213.2" y="201.7" text-anchor="end">0 V</text>
<path d="M128.5,218.6H169.5" stroke="#B46AE6" stroke-width="3.2" stroke-linecap="round"/>
<text x="213.2" y="223.9" text-anchor="end">-30 V</text>
<path d="M128.5,240.9H169.5" stroke="#D09A00" stroke-width="3.2" stroke-linecap="round"/>
<text x="213.2" y="246.2" text-anchor="end">-50 V</text></g>
<g font-size="16.5" font-weight="bold" fill="#111" text-anchor="middle">
<text x="182.7" y="458.7">600</text>
<text x="264.0" y="458.7">650</text>
<text x="345.4" y="458.7">700</text>
<text x="426.7" y="458.7">750</text>
<text x="508.0" y="458.7">800</text>
</g>
<text x="321.5" y="492.3" font-size="27.8" font-weight="bold" fill="#111" text-anchor="middle">Wavelength (nm)</text>
<text transform="translate(99.2,271.2) rotate(-90)" font-size="27.2" font-weight="bold" fill="#111" text-anchor="middle">PL intensity</text>
<text x="287.2" y="402.8" font-size="17.2" fill="#111" stroke="#111" stroke-width="0.45">X<tspan font-size="10" dy="-8.2" dx="0.6">0</tspan></text>
<text x="419.3" y="434.1" font-size="16.5" font-weight="bold" fill="#111" text-anchor="middle">T</text>
<path d="M419.2,416.3V423" stroke="#333" stroke-width="2"/>
</g>
<g id="tem">
<g clip-path="url(#temclip)">
<g filter="url(#temblur)">
<rect x="563.5" y="89.0" width="419.0" height="418.4" fill="#303030"/>
<g transform="rotate(0.26 596 300)">
<rect x="563.5" y="89.0" width="419.0" height="418.4" fill="url(#speck)"/>
<rect x="773" y="190.5" width="124" height="25" rx="11" fill="#f4f4f4" opacity="0.76" filter="url(#blobblur)"/>
<rect x="622" y="311" width="113" height="24" rx="11" fill="#eaeaea" opacity="0.46" filter="url(#blobblur)"/>
<rect x="560.5" y="202.3" width="425.0" height="1.2" fill="#000" opacity="0.45"/>
<rect x="560.5" y="321.9" width="425.0" height="1.2" fill="#000" opacity="0.45"/>
<use href="#band" x="0" y="96.20"/>
<use href="#band" x="0" y="122.70"/>
<use href="#band" x="0" y="149.20"/>
<use href="#band" x="0" y="175.70"/>
<use href="#band" x="0" y="216.00"/>
<use href="#band" x="0" y="242.50"/>
<use href="#band" x="0" y="269.00"/>
<use href="#band" x="0" y="295.50"/>
<use href="#band" x="0" y="335.60"/>
<use href="#band" x="0" y="362.10"/>
<use href="#band" x="0" y="388.60"/>
<use href="#band" x="0" y="415.10"/>
<use href="#band" x="0" y="441.60"/>
<use href="#band" x="0" y="468.10"/>
<use href="#band" x="0" y="494.60"/>
</g>
<rect x="565.5" y="91.0" width="415.0" height="414.4" filter="url(#grain)" style="mix-blend-mode:multiply" opacity="1"/>
</g>
</g>
<path d="M833.8,115.2 H844.6 V159.4 H850.5 L839.2,172.8 L828.0,159.4 H833.8 Z" fill="#FFC000"/>
<path d="M680.0,234.3 H691.4 V279.4 H697.0 L685.7,291.9 L674.4,279.4 H680.0 Z" fill="#FFC000"/>
<rect x="585.9" y="487.6" width="121.3" height="3.7" fill="#fff"/>
<text x="587" y="482" font-family="'Liberation Sans',sans-serif" font-size="21.6" fill="#fff">10 nm</text>
</g>
</svg>
</body></html>
